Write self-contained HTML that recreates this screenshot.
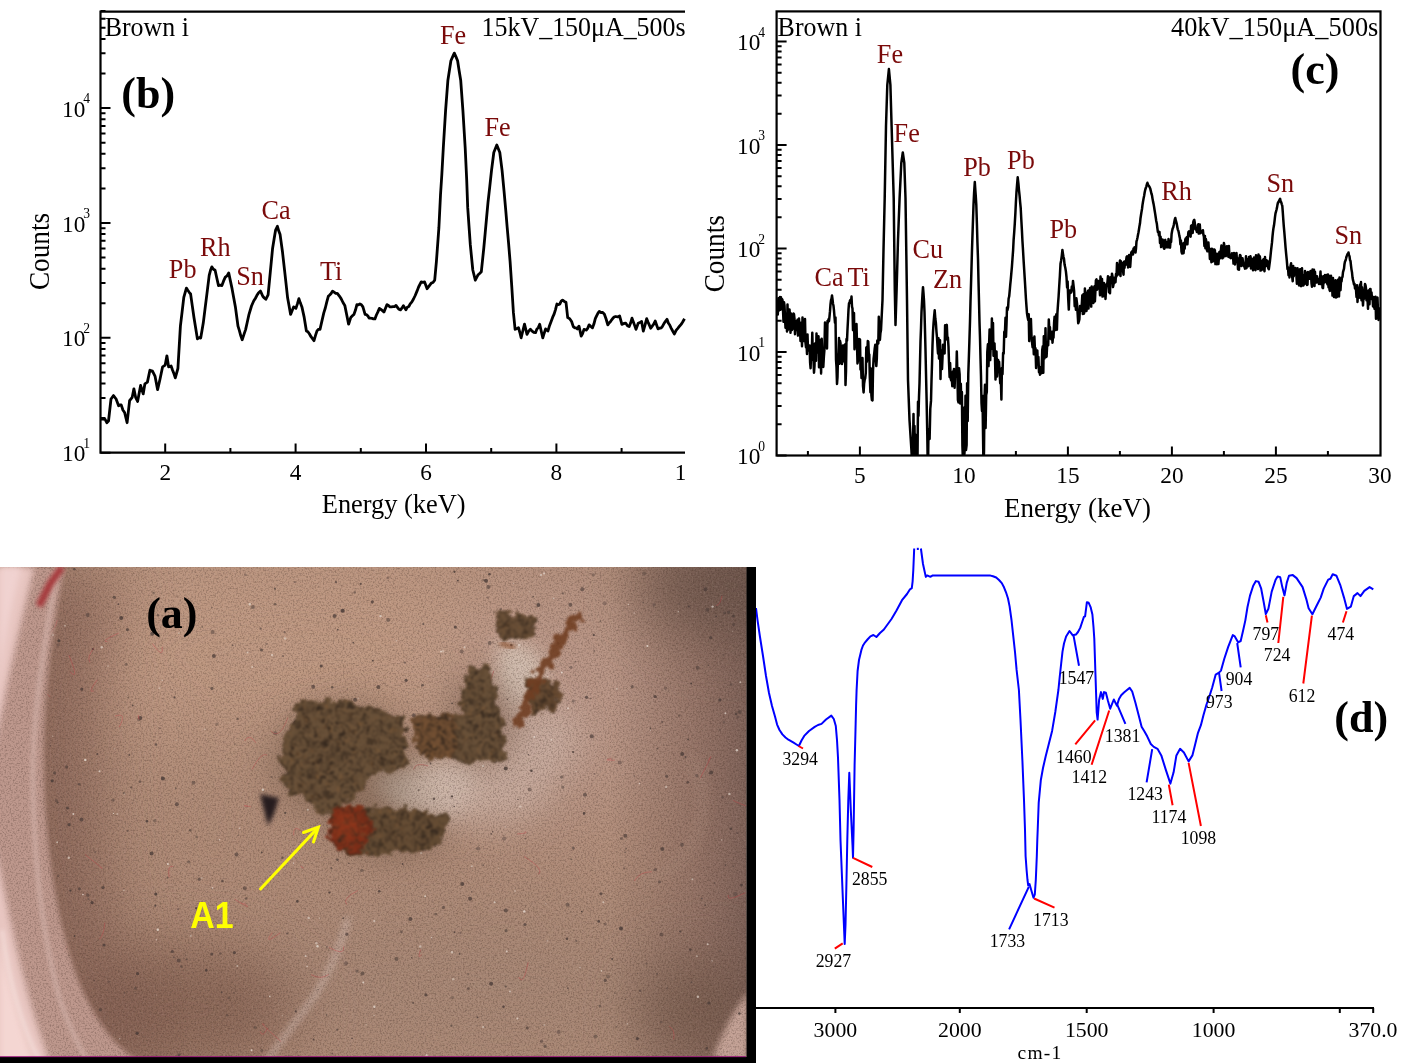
<!DOCTYPE html><html><head><meta charset="utf-8"><title>Figure</title>
<style>html,body{margin:0;padding:0;background:#fff;}body{width:1417px;height:1063px;overflow:hidden;}svg{display:block;}</style>
</head><body>
<svg width="1417" height="1063" viewBox="0 0 1417 1063">
<rect width="1417" height="1063" fill="#fff"/>
<g id="pb">
<polyline points="100.5,419 103,419 105.1,419.3 106.8,422.7 108.5,421 111,399 113.5,395.6 116.1,399 118.6,405.8 119.9,404.9 121.2,404.9 122.9,410 124.6,412.5 127.1,422.7 129.6,400.7 132.2,397.3 133.9,388.8 135.6,397.3 137.6,401.5 139.1,393.5 140.6,385.5 143.2,393.9 144.9,383.8 147.4,382.1 149.9,370.2 152.5,371.1 155,376.1 157.6,389.7 160.1,378.7 162.6,366.8 165.2,365.1 166.9,355.8 168.6,366.8 171.1,366 172.5,370 173.9,373.6 175.3,377.8 177.9,368.5 180.4,326.2 182.1,311.8 183.8,297.4 186.4,288.1 187.8,290.3 189.2,292.3 190.6,294 192.3,305.9 194,317.7 195.7,328.3 197.4,338.9 199.1,337.7 200.7,338 202,330.4 203.3,322.8 205,309.2 206.7,295.7 209.2,275.4 210.5,270.3 211.8,266.9 213.4,269.2 215.1,270.3 216.8,278 218.5,285.6 220.2,285.2 221.9,285.6 223.6,280.9 225.3,277.1 227,275.9 228.7,272.9 230.4,280.9 232.1,288.9 233.8,298.2 235.5,307.6 238,326.2 239.4,330.6 240.8,335.8 242.2,339.7 243.9,334.6 245.6,329.6 247.3,322 249,314.3 251.5,306 253.8,300.8 255.3,298.5 256.8,295.6 258.6,292.7 260.5,291.1 262.8,296.3 264.3,298 265.8,299.3 268.1,294.8 270.3,272.2 272.6,248.2 274.1,239.1 275.6,230.1 277.4,226.3 278.8,231.1 280.1,234.6 282.4,251.2 284.6,270.7 286.1,284.2 287.6,297.8 289.1,306.1 290.6,314.4 292.1,310.7 293.6,306.9 295.9,308.4 297.4,303.9 298.9,298.6 300.4,303.1 301.9,306.9 304.2,317.4 306.4,330.9 307.9,331.7 309.5,334 311,336.7 312.5,338.6 314,340.7 315.5,335.4 317,330.9 318.5,329.3 320,329.4 321.9,321.1 323.8,312.9 325.3,308 326.8,301.8 328.3,296.3 329.7,295 331.1,293.5 332.5,291.1 334.1,292.2 335.7,293.3 337.3,293.3 339.2,295.8 341.1,298.6 343,302.5 344.8,305.4 346.7,314.8 348.6,324.2 350.8,317.4 352.4,315.8 353.9,314.4 355.4,310.3 356.9,304.6 358.4,304.9 359.9,303.9 361.4,304.7 362.9,306.9 365.1,314.4 366.4,314.7 367.8,315.8 369.1,318.1 370.4,318.2 371.9,318.3 373.4,318.9 374.9,318.9 376.4,315 377.9,311.9 379.4,308.4 380.9,309.4 382.4,310.6 383.9,312.1 385.4,308.5 387,304.6 388.5,305.5 390,306.9 391.5,306.9 393,306.7 394.5,306.7 396,305.4 397.5,307.5 399,309.3 400.5,309.9 401.9,308.1 403.4,305.6 405.9,309.8 407.3,307.2 408.8,306.5 410.2,303.9 411.9,301.9 413.5,299 415.2,295.5 416.9,291.4 418.6,287 421.2,281.9 422.9,282.3 424.6,281.9 427.1,288.7 429.6,285.3 431.3,283.1 433,282.5 434.7,280.2 436.4,261.6 438.9,227.7 440.5,195 441.8,175 443.3,148 445.6,110.3 447.9,80.2 449.4,70.5 450.9,60.7 452.6,56.9 454.3,53.1 456,56.9 457.6,60.7 459.1,70.5 460.7,80.2 462.9,110.3 465.2,148 466.7,180 467.7,207.4 469,226.1 470.3,244.7 472.8,270 475.3,280.2 477.9,275.1 479.6,273.5 481.3,271.8 483.8,248 485.2,232.8 486.6,217.5 488,202.3 489.8,186.4 491.5,170.6 493.8,152.5 495.3,148.8 496.8,145 498.3,148.8 499.8,152.5 502.1,170.6 504,190.7 505.8,210.8 507.2,227.7 508.7,244.7 510.1,261.6 511.8,287 513.4,312.4 515.1,329.3 516.8,328.6 518.5,327.6 519.8,332.3 521.1,337.8 522.8,331 524.5,324.2 527,334.4 528.7,331.1 530.4,329.3 532.1,331.1 533.8,332.4 535.5,332.7 536.9,329.1 538.3,327.6 539.7,324.2 541.2,331 542.8,337.9 544.2,333.2 545.6,328.9 547.9,331.1 549.6,325.4 551.3,321 552.7,317.2 554.1,314.2 555.5,309.6 556.9,304 558.3,304.7 559.8,304 561.2,301.2 562.6,300.1 564.3,301.4 566,302.3 567.7,317.6 569.7,318.7 571.6,321.5 573.3,326.6 574.6,327.8 576,327.8 577.3,328.9 579,326.1 581.2,336.2 582.6,333.5 584,329.4 586.3,330 587.7,328.3 589.1,324.9 590.8,326.4 592.5,327.8 593.9,324.1 595.3,318.7 596.6,315.9 598,313.1 599.3,311.4 601,312.5 602.7,312.4 604.4,314.2 606.1,319 607.8,324.9 609.1,323 610.4,321.7 611.7,319.8 613,318.1 614.4,316.8 615.7,316.5 617.7,316.9 619.6,315.9 621.9,324.4 623.8,323.5 625.8,323.2 627.5,325.7 629.2,326.6 630.6,323.1 632,318.2 633.3,321.7 634.7,325.6 636,329.4 638.2,323.2 639.9,322.4 641.6,321.5 643.3,331.1 645,325.2 646.7,318.7 648,322.1 649.4,325.2 650.7,328.3 652.2,326.1 653.7,324.2 655.2,321 656.6,325 658,328.9 659.3,328.2 660.7,328.2 662,327.2 663.7,324.1 665.3,321.6 667,319.3 668.3,323 669.7,325 671,327.8 672.7,331 674.4,334 676.1,330.3 677.8,328.3 679.5,326.2 681.1,324.4 682.8,321.7 684.5,318.7" fill="none" stroke="#000" stroke-width="2.8" stroke-linejoin="round"/>
<path d="M100.5,10.8 V453.5 M99.5,452.6 H685 M99.5,11.6 H685" stroke="#000" stroke-width="2.2" fill="none"/>
<path d="M100.5,452.7 h10 M100.5,418.1 h5 M100.5,397.9 h5 M100.5,383.5 h5 M100.5,372.4 h5 M100.5,363.3 h5 M100.5,355.6 h5 M100.5,349 h5 M100.5,343.1 h5 M100.5,337.8 h10 M100.5,303.3 h5 M100.5,283 h5 M100.5,268.7 h5 M100.5,257.5 h5 M100.5,248.4 h5 M100.5,240.8 h5 M100.5,234.1 h5 M100.5,228.2 h5 M100.5,223 h10 M100.5,188.4 h5 M100.5,168.2 h5 M100.5,153.8 h5 M100.5,142.7 h5 M100.5,133.6 h5 M100.5,125.9 h5 M100.5,119.2 h5 M100.5,113.3 h5 M100.5,108.1 h10 M100.5,73.5 h5 M100.5,53.3 h5 M100.5,38.9 h5 M100.5,27.8 h5 M100.5,18.7 h5 M100.5,11 h5" stroke="#000" stroke-width="2" fill="none"/>
<path d="M165.2,452.6 v-9 M230.4,452.6 v-4.5 M295.6,452.6 v-9 M360.8,452.6 v-4.5 M426,452.6 v-9 M491.2,452.6 v-4.5 M556.4,452.6 v-9 M621.6,452.6 v-4.5" stroke="#000" stroke-width="2" fill="none"/>
<text transform="translate(165.2,480) scale(0.970,1)" font-size="24" fill="#000" text-anchor="middle" font-weight="normal" font-family="'Liberation Serif','Times New Roman',serif" >2</text>
<text transform="translate(295.6,480) scale(0.970,1)" font-size="24" fill="#000" text-anchor="middle" font-weight="normal" font-family="'Liberation Serif','Times New Roman',serif" >4</text>
<text transform="translate(426,480) scale(0.970,1)" font-size="24" fill="#000" text-anchor="middle" font-weight="normal" font-family="'Liberation Serif','Times New Roman',serif" >6</text>
<text transform="translate(556.4,480) scale(0.970,1)" font-size="24" fill="#000" text-anchor="middle" font-weight="normal" font-family="'Liberation Serif','Times New Roman',serif" >8</text>
<clipPath id="cb"><rect x="600" y="440" width="85" height="60"/></clipPath>
<g clip-path="url(#cb)">
<text transform="translate(686.3,480) scale(0.970,1)" font-size="24" fill="#000" text-anchor="middle" font-weight="normal" font-family="'Liberation Serif','Times New Roman',serif" >10</text>
</g>
<text transform="translate(62,461.3) scale(0.970,1)" font-size="24" fill="#000" text-anchor="start" font-weight="normal" font-family="'Liberation Serif','Times New Roman',serif" >10<tspan dx="-2.0" dy="-13.4" font-size="14">1</tspan></text>
<text transform="translate(62,346.4) scale(0.970,1)" font-size="24" fill="#000" text-anchor="start" font-weight="normal" font-family="'Liberation Serif','Times New Roman',serif" >10<tspan dx="-2.0" dy="-13.4" font-size="14">2</tspan></text>
<text transform="translate(62,231.6) scale(0.970,1)" font-size="24" fill="#000" text-anchor="start" font-weight="normal" font-family="'Liberation Serif','Times New Roman',serif" >10<tspan dx="-2.0" dy="-13.4" font-size="14">3</tspan></text>
<text transform="translate(62,116.7) scale(0.970,1)" font-size="24" fill="#000" text-anchor="start" font-weight="normal" font-family="'Liberation Serif','Times New Roman',serif" >10<tspan dx="-2.0" dy="-13.4" font-size="14">4</tspan></text>
<text transform="translate(49.2,251.5) rotate(-90) scale(0.94,1)" font-size="29" text-anchor="middle" font-family="'Liberation Serif','Times New Roman',serif">Counts</text>
<text transform="translate(321.8,513.2) scale(0.956,1)" font-size="27.6" fill="#000" text-anchor="start" font-weight="normal" font-family="'Liberation Serif','Times New Roman',serif" >Energy (keV)</text>
<text transform="translate(104.7,36.3) scale(0.950,1)" font-size="27.3" fill="#000" text-anchor="start" font-weight="normal" font-family="'Liberation Serif','Times New Roman',serif" >Brown i</text>
<text transform="translate(685.6,36) scale(0.940,1)" font-size="27.6" fill="#000" text-anchor="end" font-weight="normal" font-family="'Liberation Serif','Times New Roman',serif" >15kV_150&#956;A_500s</text>
<text x="121.3" y="107.9" font-size="44" fill="#000" text-anchor="start" font-weight="bold" font-family="'Liberation Serif','Times New Roman',serif" >(b)</text>
<text transform="translate(168.8,277.7) scale(0.950,1)" font-size="27.6" fill="#7a0a0a" text-anchor="start" font-weight="normal" font-family="'Liberation Serif','Times New Roman',serif" >Pb</text>
<text transform="translate(200,255.8) scale(0.950,1)" font-size="27.6" fill="#7a0a0a" text-anchor="start" font-weight="normal" font-family="'Liberation Serif','Times New Roman',serif" >Rh</text>
<text transform="translate(236.2,284.7) scale(0.950,1)" font-size="27.6" fill="#7a0a0a" text-anchor="start" font-weight="normal" font-family="'Liberation Serif','Times New Roman',serif" >Sn</text>
<text transform="translate(261.5,219.1) scale(0.950,1)" font-size="27.6" fill="#7a0a0a" text-anchor="start" font-weight="normal" font-family="'Liberation Serif','Times New Roman',serif" >Ca</text>
<text transform="translate(320,280.3) scale(0.950,1)" font-size="27.6" fill="#7a0a0a" text-anchor="start" font-weight="normal" font-family="'Liberation Serif','Times New Roman',serif" >Ti</text>
<text transform="translate(439.9,44.4) scale(0.950,1)" font-size="27.6" fill="#7a0a0a" text-anchor="start" font-weight="normal" font-family="'Liberation Serif','Times New Roman',serif" >Fe</text>
<text transform="translate(484.4,136.2) scale(0.950,1)" font-size="27.6" fill="#7a0a0a" text-anchor="start" font-weight="normal" font-family="'Liberation Serif','Times New Roman',serif" >Fe</text>
</g>
<g id="pc">
<clipPath id="cc"><rect x="777" y="11" width="603" height="444.5"/></clipPath>
<polyline clip-path="url(#cc)" points="776.7,306.1 777.2,301 777.8,314.5 778.4,298.2 778.9,310.7 779.5,305.6 780,296.9 780.5,309.7 781,297.2 781.5,308.7 782,299 782.5,300 783,309.9 783.5,321.8 784,302.3 784.5,305.6 785,317.7 785.5,327.8 786,317.9 786.5,313.4 787,331.4 787.5,304.4 788,329.6 788.5,313.2 789,309.5 789.5,309.4 790,316 790.5,332.8 791,313.6 791.5,327.2 792,330 792.5,322.2 793,328.8 793.5,313.6 794,314.3 794.5,318.8 795,334.2 795.5,325.5 796,321.4 796.5,329.9 797,325.2 797.5,319.8 798,335.6 798.5,333 799,318.6 799.5,330 800,328.8 800.5,341 801,336.7 801.5,322.4 802,346.2 802.5,317.5 803,328.2 803.5,341 804,321.1 804.5,334 805,319 805.5,342.7 806,347.4 806.5,341.6 807,354 807.5,334.4 808,350.4 808.5,348 809.1,348.9 809.6,345.4 810.1,362.4 810.6,368.3 811.2,349.3 811.7,357.5 812.3,332.7 812.9,359.7 813.4,357.8 814,372.7 814.5,365.9 815,343.6 815.5,348.3 816,360.7 816.5,333.5 817,352.6 817.5,340.3 818,338.4 818.5,336.2 819,367.3 819.6,339.8 820.1,345.3 820.6,351.9 821.1,373.4 821.7,338.8 822.2,355.4 822.7,360.2 823.3,366.9 823.9,356.4 824.4,350.2 825,322.5 825.5,327.8 826,326.5 826.5,345.2 827,348.6 827.5,321.1 828,322.6 828.5,319.3 829,321.1 829.5,316.5 830,311.2 830.5,304.1 831,300.1 831.5,298.7 832,295.5 832.5,299.2 833,303.7 833.5,305.8 834,310.7 834.5,316.9 835,322.8 835.5,317.5 836,359.5 836.5,367.1 837,384 837.5,377.2 838,355.6 838.5,353.3 839,337.9 839.5,363.8 840,340.7 840.5,343.2 841,352.3 841.5,352.4 842,363.9 842.5,348.6 843,345.4 843.5,352.4 844,349.3 844.5,361.6 845,344.4 845.5,384.9 846,371.5 846.5,339 847,340.6 847.5,329.2 848,320 848.5,309.7 849,303.3 849.5,303.2 850,300.5 850.5,299.9 851,302.1 851.5,296.6 852,306.6 852.5,308.6 853,330.1 853.5,313.7 854,313 854.5,349.3 855,339 855.5,326.2 856,342.3 856.5,324 857,344.4 857.5,363.4 858,360.4 858.5,355.2 859,339 859.5,344.5 860,339.5 860.5,369.4 861,362.5 861.5,377.9 862,360 862.5,357.9 863,385.9 863.6,392.5 864.1,383.9 864.7,379.7 865.2,378.4 865.8,372.8 866.3,347.6 866.8,361.8 867.3,355.3 867.8,341 868.3,341.7 868.8,354.5 869.3,354.4 869.8,377.1 870.4,392.1 870.9,368.5 871.4,395.3 871.9,400 872.5,400.4 873,370.7 873.6,358.6 874.1,354.6 874.7,348.8 875.3,344.8 875.8,359.1 876.3,366.1 876.8,358.9 877.3,340.6 877.8,342.7 878.3,343.4 878.8,316.7 879.4,334 879.9,339.9 880.4,333.4 881,330 881.5,320 882.5,300 883.5,250 884.7,198 886,126 887.3,85 888.9,69 890.4,85 891.6,126 893.7,198 894.8,290 895.5,325 896.6,290 898,240 899.6,198 901.3,163 902.8,152.4 904.3,163 905.5,198 907,300 908,380 909.5,420 911.8,456 913,444.8 913.5,413.9 914,471.3 914.5,425.9 915,468.1 915.5,487.4 916,434.9 916.5,437.7 917,495.3 917.5,461 918,401.7 918.5,415.6 919,396.6 919.5,383.3 920,362.1 920.5,341.3 921,328.3 921.5,312 922,302.9 922.5,294.1 923,287.2 923.5,293.4 924,300.5 924.5,312 925,330.8 925.5,350.2 926,373.2 926.6,399.3 927.3,434.8 927.9,478 928.5,429.8 929,434.3 929.6,438.9 930.3,408.6 931,400.9 931.5,380.5 932,364.4 932.5,345.3 933,332.1 933.6,322.6 934.1,316.5 934.7,310.3 935.3,318.5 935.9,323 936.5,332.1 937,337.5 937.5,346.2 938,353.5 938.5,338.2 939,358.5 939.5,347.7 940,340.3 940.5,379 941,350.3 941.5,361.3 942,369.1 942.5,358 943,344.7 943.5,349.2 944,347.2 944.6,353.4 945.1,325.3 945.7,339.7 946.3,326.1 946.8,324.8 947.4,339.2 947.9,337.4 948.5,346.7 949,362.3 949.6,377 950.1,363 950.7,378.6 951.2,380.3 951.8,378.7 952.3,386.2 952.9,371.5 953.4,373.7 954,368.9 954.6,387.8 955.1,372.3 955.7,376.5 956.3,375.3 956.8,351.6 957.4,372.6 957.9,399.9 958.5,402.4 959,368.2 959.6,374.1 960.2,403.4 960.8,383.7 961.4,403.7 961.9,392 962.4,445.7 962.9,459.2 963.4,473.1 963.9,407.8 964.4,454.3 965,443.7 965.5,395.7 966,450.1 966.6,445 967.1,383.2 967.7,421 968.3,374 968.9,356.4 969.4,340.9 970,321.5 970.5,301.2 971,284.8 971.5,267.5 972,249.6 972.5,234.4 973,219.7 973.5,205.3 974.1,192.9 974.8,182.1 975.3,189.6 975.8,196.7 976.3,204.8 976.9,223.5 977.4,241.7 978,258.9 978.5,281.5 979,301.1 979.5,322.2 980,337.8 980.5,358.4 981,376.2 981.5,402.8 982,410.8 982.5,395.8 983,432.7 983.5,468.6 984,451.2 984.5,398.9 985,384.7 985.6,428.1 986.2,394.9 986.8,392.1 987.3,352.1 987.9,344.3 988.5,366.1 989,346.9 989.6,329.6 990.2,360.1 990.7,344.8 991.3,347.3 991.9,318.5 992.4,348.8 993,323 993.5,355.8 994,343.2 994.5,343.4 995,357.3 995.5,379.4 996,353.9 996.5,351.5 997,376.4 997.5,364.2 998.1,359.9 998.6,365.5 999.1,361.7 999.7,373.4 1000.2,383.2 1000.8,378.1 1001.4,399.5 1001.9,367.9 1002.5,374.2 1003.1,353.1 1003.7,353.5 1004.3,331.8 1004.9,333.9 1005.5,317.8 1006,336.7 1006.5,324.4 1007,307.5 1007.5,309.9 1008.1,307.2 1008.6,298.8 1009.2,296.3 1009.8,289.8 1010.3,284.2 1010.8,279.4 1011.4,272.3 1011.9,266.8 1012.5,258.5 1013.1,250.3 1013.6,240.2 1014.2,232.4 1014.8,223.3 1015.4,212.9 1015.9,202.2 1016.5,191.8 1017.1,184.4 1017.7,177.3 1018.4,183.4 1019,190.3 1019.6,195.8 1020.1,201.8 1020.7,207.8 1021.3,219.5 1021.9,230.1 1022.4,240.3 1023,250 1023.6,260.4 1024.2,269.8 1024.8,279.6 1025.3,287.9 1025.9,298.2 1026.5,306.7 1027,313.3 1027.6,317.1 1028.2,320.1 1028.7,314.3 1029.2,341.1 1029.8,323.3 1030.4,328.3 1030.9,318.9 1031.5,336 1032.1,342.8 1032.6,347.3 1033.2,338.2 1033.8,354.2 1034.4,336.6 1035,352.5 1035.5,348.2 1036.1,368 1036.7,353.3 1037.3,350.4 1037.8,362.9 1038.4,357.1 1039,372.2 1039.5,366.9 1040,374.7 1040.6,367.7 1041.1,367.6 1041.6,373.2 1042.2,350.3 1042.8,346.3 1043.3,372.7 1043.8,336.3 1044.4,358.6 1045,353.7 1045.5,328.3 1046,357.1 1046.6,356.5 1047.2,343.9 1047.7,345.2 1048.2,345.3 1048.8,319.5 1049.4,330.2 1049.9,327.1 1050.4,338.5 1050.9,338.1 1051.5,339.4 1052,331.8 1052.5,342.7 1053,336.2 1053.5,337.6 1054.1,322.7 1054.6,316.7 1055.2,321.1 1055.7,330.1 1056.3,314.2 1056.9,329.6 1057.4,313.2 1058,304.3 1058.6,296.5 1059.2,286.2 1059.9,275.3 1060.5,263.7 1061.1,260.7 1061.8,255.6 1062.4,250 1062.9,253.4 1063.5,257 1064,258.9 1064.6,264.8 1065.3,267.7 1065.9,271.4 1066.5,277 1067.1,287.5 1067.6,281.4 1068.2,298.5 1068.8,309.6 1069.3,295.5 1069.8,290.6 1070.3,290.5 1070.8,292.7 1071.3,292.1 1071.8,286.5 1072.4,290.3 1073,280.9 1073.5,285.4 1074.1,290.9 1074.7,306.1 1075.3,298.9 1075.9,309.8 1076.4,298.3 1077,303.1 1077.6,312.9 1078.2,323.2 1078.8,321.6 1079.4,319.1 1080,306.1 1080.6,310.8 1081.1,307.7 1081.7,306.1 1082.3,295.3 1082.8,313.9 1083.4,294.3 1083.9,313.7 1084.4,312.1 1084.9,288.5 1085.4,299.2 1086,307.7 1086.5,310.9 1087,297.6 1087.5,292.8 1088,290.9 1088.5,308.5 1089,290.2 1089.6,298.8 1090.1,287.9 1090.6,296.7 1091.2,306.6 1091.7,286.6 1092.2,302.6 1092.7,294.7 1093.3,303 1093.8,298.1 1094.3,286.6 1094.9,301.4 1095.4,291.3 1095.9,280.3 1096.5,279.3 1097,289.8 1097.5,288.5 1098,284.8 1098.5,280.9 1099,285 1099.5,284.1 1100,295.2 1100.5,276.5 1101,292.5 1101.5,294.5 1102,278.9 1102.5,296.6 1103,292.1 1103.5,296.3 1104,283 1104.5,284.9 1105,285.4 1105.5,298.9 1106,290 1106.5,284.4 1107,285.4 1107.5,281.6 1108,276.2 1108.5,276.9 1109,292.2 1109.5,279.9 1110,293.2 1110.5,277.8 1111,277.1 1111.5,281.2 1112,273.7 1112.5,276.5 1113,287.1 1113.5,284.6 1114,282.1 1114.5,277.8 1115,282.4 1115.5,282.1 1116,273.9 1116.5,276.4 1117,263.1 1117.5,275 1118,269.1 1118.5,274.3 1119,272 1119.5,265.1 1120,260.5 1120.5,276 1121,261.3 1121.5,267.2 1122,264.6 1122.5,263.4 1123,270.9 1123.5,274.7 1124,261.8 1124.5,268 1125,261.2 1125.5,265 1126,261.5 1126.6,257 1127.1,256.3 1127.6,256.5 1128.1,267.4 1128.6,260 1129.1,255 1129.7,265.9 1130.2,266.9 1130.8,257.7 1131.3,252.3 1131.9,252.8 1132.5,250.8 1133,254.5 1133.5,248.6 1134,249 1134.5,247.4 1135,250 1135.5,252.6 1136,248.5 1136.5,241.3 1137,239.8 1137.5,237.5 1138,234.8 1138.5,232.2 1139,229.2 1139.5,225.9 1140,223.3 1140.5,218.2 1141,215 1141.5,211.9 1142,209 1142.5,204.9 1143,201.7 1143.6,198.4 1144.2,195.4 1144.7,192.2 1145.3,189.5 1145.8,188 1146.3,186.6 1146.9,184.2 1147.4,182.8 1148,184.5 1148.5,185.6 1149,186 1149.6,187.1 1150.2,188.4 1150.8,190.9 1151.4,193.5 1152,195.4 1152.5,198.6 1153.1,201.9 1153.6,204.1 1154.1,207 1154.6,210.2 1155.2,213.9 1155.7,217.3 1156.2,220.7 1156.8,223.4 1157.3,227.7 1157.9,232.1 1158.4,231.5 1159,235.6 1159.5,232 1160,242.9 1160.6,236.7 1161.1,247.1 1161.6,244.6 1162.1,241 1162.7,239.6 1163.2,242.5 1163.7,247.9 1164.3,248.8 1164.8,240.5 1165.3,239.9 1165.8,246.3 1166.4,247.2 1166.9,244.4 1167.4,242.1 1168,247.4 1168.5,239.1 1169,241.7 1169.5,242.5 1170,247.7 1170.5,241.9 1171.1,241.9 1171.6,234 1172.2,230.5 1172.7,228.4 1173.2,227.5 1173.8,224.8 1174.3,222 1174.8,219.4 1175.3,218 1175.8,220.4 1176.3,222.2 1176.8,224.1 1177.3,227 1177.8,229.6 1178.3,230.5 1178.8,232.8 1179.4,236.1 1179.9,238.1 1180.4,244.3 1180.9,240.4 1181.5,251.6 1182,253.5 1182.5,248.9 1183.1,243.5 1183.6,253.3 1184.2,242.8 1184.7,248.7 1185.3,239.4 1185.8,238.2 1186.3,244.3 1186.9,236.9 1187.4,244.3 1187.9,237.1 1188.4,232 1189,231.3 1189.5,232.6 1190,234.4 1190.6,236.6 1191.1,225.8 1191.6,227.9 1192.2,224.9 1192.7,232.9 1193.2,222.4 1193.7,220.6 1194.3,219.9 1194.8,222.8 1195.3,229 1195.8,229.5 1196.3,228.3 1196.8,231.9 1197.3,231.8 1197.8,225.3 1198.3,224.2 1198.8,233.6 1199.3,231.9 1199.8,224.5 1200.3,233.2 1200.8,230.8 1201.3,231.8 1201.8,232.3 1202.3,231.3 1202.9,230.2 1203.4,234.8 1203.9,236.8 1204.4,245.9 1204.9,235.9 1205.4,248.3 1205.9,239.1 1206.4,242.3 1206.9,250 1207.4,251.3 1207.9,246.9 1208.4,242.4 1208.9,249.8 1209.4,249.4 1209.9,258.9 1210.4,248.9 1210.9,252.7 1211.4,262.3 1211.9,248.7 1212.4,254.9 1212.9,261.4 1213.4,260.9 1213.9,249.5 1214.4,249.6 1214.9,250.2 1215.4,264.1 1215.9,253.6 1216.4,261.6 1216.9,264.2 1217.4,255.4 1217.9,253.8 1218.4,264.1 1218.9,258 1219.4,251.9 1219.9,258.4 1220.4,251.6 1220.9,250.3 1221.4,245.6 1221.9,256.5 1222.4,258.3 1222.9,253.4 1223.4,257.4 1223.9,243.1 1224.4,245.7 1224.9,248.6 1225.4,255.9 1225.9,256.1 1226.4,248 1226.9,246.2 1227.4,249.1 1227.9,250.2 1228.4,256.9 1228.9,246 1229.4,255.5 1229.9,255.6 1230.4,257.9 1230.9,258.2 1231.4,256.7 1232,253.3 1232.5,254.1 1233,255.8 1233.5,263.6 1234,253.1 1234.5,255.2 1235,264.5 1235.5,256.3 1236,253.5 1236.5,253.1 1237,261.9 1237.5,258.3 1238,269.3 1238.5,267.9 1239,269.8 1239.5,257.9 1240,255 1240.5,255.4 1241,262.3 1241.5,266 1242,261.8 1242.5,258.3 1243,261.6 1243.5,265 1244,265.8 1244.5,267 1245,268.6 1245.5,265.4 1246,256.2 1246.5,268.3 1247,259 1247.5,263.5 1248,260.2 1248.5,266.3 1249,257.1 1249.5,257.9 1250,257.8 1250.5,256.2 1251,268.5 1251.5,263.3 1252,259.1 1252.5,260.3 1253,270.3 1253.5,262.1 1254,257.5 1254.5,267.2 1255,264.6 1255.5,270.2 1256,255.3 1256.5,261.6 1257,267.4 1257.5,267.7 1258,269 1258.5,254.4 1259,258.8 1259.5,256 1260,257.3 1260.5,270.6 1261,264.2 1261.5,270.2 1262,260.8 1262.5,269.3 1263,262.4 1263.5,259.3 1264,268.2 1264.5,271.2 1265,257 1265.5,265.5 1266,266.1 1266.6,260.3 1267.1,264.1 1267.7,261.2 1268.2,268 1268.8,269.3 1269.3,265.8 1269.9,261.4 1270.5,255.8 1271,250.9 1271.5,246.6 1272,242.4 1272.5,236.4 1273,231.7 1273.5,227.9 1274,225.3 1274.5,221.3 1275,216.9 1275.5,213.4 1276,211.6 1276.5,209.7 1277,207.6 1277.5,204.6 1278,202.5 1278.5,202.3 1279,200.9 1279.6,199.7 1280.1,198.8 1280.6,201.3 1281.2,202.2 1281.8,204.3 1282.3,205.8 1282.8,212.4 1283.3,219.6 1283.8,226.3 1284.3,231.8 1284.9,239.1 1285.6,247.8 1286.2,254.3 1286.8,260.3 1287.5,269.1 1288,267.3 1288.5,275.1 1289,268.2 1289.5,277.5 1290.1,270.4 1290.6,265.5 1291.1,263.3 1291.6,274 1292.1,275.9 1292.7,281.3 1293.2,265.9 1293.7,276.3 1294.3,271.8 1294.8,274.6 1295.3,267.9 1295.9,270.8 1296.4,275.7 1296.9,283.7 1297.5,268.2 1298,275.8 1298.5,282.1 1299,285.4 1299.5,270.5 1300,269.2 1300.5,285.3 1301,286.1 1301.5,276.5 1302,268.2 1302.5,285.5 1303,275 1303.5,285.4 1304,279.9 1304.5,284 1305,271 1305.5,283.5 1306,272.5 1306.5,276.2 1307,285 1307.5,284.7 1308,271.9 1308.5,272.7 1309,276.4 1309.5,278.8 1310,276.2 1310.5,271 1311,273.6 1311.5,283.2 1312,286.7 1312.5,269.6 1313,280.1 1313.5,284.1 1314,269.7 1314.5,286 1315,271.7 1315.5,281.6 1316,280.8 1316.5,282.5 1317,276.2 1317.5,278.7 1318,282.2 1318.5,279.2 1319,284.1 1319.5,280 1320,280 1320.5,271.6 1321,284.1 1321.5,281.6 1322,276.5 1322.5,287.7 1323,288.2 1323.5,281.7 1324,276.1 1324.5,282.4 1325,274.9 1325.5,275.5 1326,282 1326.5,275.1 1327,282.6 1327.5,284.3 1328,274.5 1328.5,287.3 1329,275.7 1329.5,289.8 1330,290.9 1330.5,285.4 1331,275.8 1331.5,285.6 1332,283 1332.5,295.6 1333,278.1 1333.5,293.9 1334,297.1 1334.5,291.5 1335,293.5 1335.5,280.2 1336,297.5 1336.5,286.8 1337,297 1337.5,296.1 1338,279.7 1338.5,293.3 1339,296.4 1339.5,277.5 1340,283.7 1340.5,290.3 1341,281.5 1341.5,281.6 1342,277.5 1342.5,276.9 1343,272.2 1343.5,270.4 1344,268.7 1344.5,264 1345,261.4 1345.5,260.6 1346,258.7 1346.5,256.6 1347,255.5 1347.5,254.1 1348,254.4 1348.5,252.4 1349,255.4 1349.5,256.2 1350,260.2 1350.5,261 1351,265.7 1351.5,269.6 1352,272.4 1352.5,277.5 1353,280.2 1353.5,281.9 1354,284.5 1354.5,283.7 1355,288.3 1355.5,288.8 1356,289.6 1356.5,297 1357,285.2 1357.5,301.9 1358,292.8 1358.5,288.1 1359,297.5 1359.5,290.4 1360,284.6 1360.5,297.9 1361,282.1 1361.5,300.2 1362,287.3 1362.5,296.7 1363,305.4 1363.5,296.5 1364,298.9 1364.5,291 1365,284.1 1365.5,285.3 1366,288.5 1366.5,300.3 1367,296.3 1367.5,298.8 1368,308.8 1368.5,290.4 1369,293.2 1369.5,304.3 1370,289 1370.5,288.9 1371,298.3 1371.5,292.4 1372,299.3 1372.5,296.4 1373,306.2 1373.5,306.8 1374,297.2 1374.5,308.8 1375,305.3 1375.5,296.8 1376,318.7 1376.5,300.6 1377,298.5 1377.5,297.5 1378,312.8 1378.5,320 1379,318.3 1379.5,308.5 1380,312" fill="none" stroke="#000" stroke-width="2.5" stroke-linejoin="round"/>
<rect x="776.6" y="11.4" width="603.9" height="444.1" fill="none" stroke="#000" stroke-width="2.2"/>
<path d="M776.6,455.5 h10 M776.6,424.3 h5 M776.6,406.1 h5 M776.6,393.2 h5 M776.6,383.2 h5 M776.6,375 h5 M776.6,368 h5 M776.6,362 h5 M776.6,356.7 h5 M776.6,352 h10 M776.6,320.8 h5 M776.6,302.6 h5 M776.6,289.7 h5 M776.6,279.7 h5 M776.6,271.5 h5 M776.6,264.5 h5 M776.6,258.5 h5 M776.6,253.2 h5 M776.6,248.5 h10 M776.6,217.3 h5 M776.6,199.1 h5 M776.6,186.2 h5 M776.6,176.2 h5 M776.6,168 h5 M776.6,161 h5 M776.6,155 h5 M776.6,149.7 h5 M776.6,145 h10 M776.6,113.8 h5 M776.6,95.6 h5 M776.6,82.7 h5 M776.6,72.7 h5 M776.6,64.5 h5 M776.6,57.5 h5 M776.6,51.5 h5 M776.6,46.2 h5 M776.6,41.5 h10 M807.9,455.5 v-4.5 M859.9,455.5 v-9 M911.9,455.5 v-4.5 M963.9,455.5 v-9 M1015.9,455.5 v-4.5 M1067.9,455.5 v-9 M1119.9,455.5 v-4.5 M1171.9,455.5 v-9 M1223.9,455.5 v-4.5 M1275.9,455.5 v-9 M1327.9,455.5 v-4.5" stroke="#000" stroke-width="2" fill="none"/>
<text transform="translate(859.9,482.8) scale(0.970,1)" font-size="24" fill="#000" text-anchor="middle" font-weight="normal" font-family="'Liberation Serif','Times New Roman',serif" >5</text>
<text transform="translate(963.9,482.8) scale(0.970,1)" font-size="24" fill="#000" text-anchor="middle" font-weight="normal" font-family="'Liberation Serif','Times New Roman',serif" >10</text>
<text transform="translate(1067.9,482.8) scale(0.970,1)" font-size="24" fill="#000" text-anchor="middle" font-weight="normal" font-family="'Liberation Serif','Times New Roman',serif" >15</text>
<text transform="translate(1171.9,482.8) scale(0.970,1)" font-size="24" fill="#000" text-anchor="middle" font-weight="normal" font-family="'Liberation Serif','Times New Roman',serif" >20</text>
<text transform="translate(1275.9,482.8) scale(0.970,1)" font-size="24" fill="#000" text-anchor="middle" font-weight="normal" font-family="'Liberation Serif','Times New Roman',serif" >25</text>
<text transform="translate(1379.9,482.8) scale(0.970,1)" font-size="24" fill="#000" text-anchor="middle" font-weight="normal" font-family="'Liberation Serif','Times New Roman',serif" >30</text>
<text transform="translate(737,464.1) scale(0.970,1)" font-size="24" fill="#000" text-anchor="start" font-weight="normal" font-family="'Liberation Serif','Times New Roman',serif" >10<tspan dx="-2.0" dy="-13.4" font-size="14">0</tspan></text>
<text transform="translate(737,360.6) scale(0.970,1)" font-size="24" fill="#000" text-anchor="start" font-weight="normal" font-family="'Liberation Serif','Times New Roman',serif" >10<tspan dx="-2.0" dy="-13.4" font-size="14">1</tspan></text>
<text transform="translate(737,257.1) scale(0.970,1)" font-size="24" fill="#000" text-anchor="start" font-weight="normal" font-family="'Liberation Serif','Times New Roman',serif" >10<tspan dx="-2.0" dy="-13.4" font-size="14">2</tspan></text>
<text transform="translate(737,153.6) scale(0.970,1)" font-size="24" fill="#000" text-anchor="start" font-weight="normal" font-family="'Liberation Serif','Times New Roman',serif" >10<tspan dx="-2.0" dy="-13.4" font-size="14">3</tspan></text>
<text transform="translate(737,50.1) scale(0.970,1)" font-size="24" fill="#000" text-anchor="start" font-weight="normal" font-family="'Liberation Serif','Times New Roman',serif" >10<tspan dx="-2.0" dy="-13.4" font-size="14">4</tspan></text>
<text transform="translate(724.0,253.7) rotate(-90) scale(0.94,1)" font-size="29" text-anchor="middle" font-family="'Liberation Serif','Times New Roman',serif">Counts</text>
<text transform="translate(1004,516.8) scale(0.977,1)" font-size="27.6" fill="#000" text-anchor="start" font-weight="normal" font-family="'Liberation Serif','Times New Roman',serif" >Energy (keV)</text>
<text transform="translate(777.6,36.2) scale(0.950,1)" font-size="27.3" fill="#000" text-anchor="start" font-weight="normal" font-family="'Liberation Serif','Times New Roman',serif" >Brown i</text>
<text transform="translate(1378.3,36.2) scale(0.955,1)" font-size="27.6" fill="#000" text-anchor="end" font-weight="normal" font-family="'Liberation Serif','Times New Roman',serif" >40kV_150&#956;A_500s</text>
<text x="1290.5" y="83.5" font-size="44" fill="#000" text-anchor="start" font-weight="bold" font-family="'Liberation Serif','Times New Roman',serif" >(c)</text>
<text transform="translate(814.6,285.9) scale(0.950,1)" font-size="27.6" fill="#7a0a0a" text-anchor="start" font-weight="normal" font-family="'Liberation Serif','Times New Roman',serif" >Ca</text>
<text transform="translate(847.5,285.9) scale(0.950,1)" font-size="27.6" fill="#7a0a0a" text-anchor="start" font-weight="normal" font-family="'Liberation Serif','Times New Roman',serif" >Ti</text>
<text transform="translate(876.8,63.1) scale(0.950,1)" font-size="27.6" fill="#7a0a0a" text-anchor="start" font-weight="normal" font-family="'Liberation Serif','Times New Roman',serif" >Fe</text>
<text transform="translate(893.6,141.5) scale(0.950,1)" font-size="27.6" fill="#7a0a0a" text-anchor="start" font-weight="normal" font-family="'Liberation Serif','Times New Roman',serif" >Fe</text>
<text transform="translate(912.6,257.7) scale(0.950,1)" font-size="27.6" fill="#7a0a0a" text-anchor="start" font-weight="normal" font-family="'Liberation Serif','Times New Roman',serif" >Cu</text>
<text transform="translate(933,288.2) scale(0.950,1)" font-size="27.6" fill="#7a0a0a" text-anchor="start" font-weight="normal" font-family="'Liberation Serif','Times New Roman',serif" >Zn</text>
<text transform="translate(963.2,175.9) scale(0.950,1)" font-size="27.6" fill="#7a0a0a" text-anchor="start" font-weight="normal" font-family="'Liberation Serif','Times New Roman',serif" >Pb</text>
<text transform="translate(1007.1,169.3) scale(0.950,1)" font-size="27.6" fill="#7a0a0a" text-anchor="start" font-weight="normal" font-family="'Liberation Serif','Times New Roman',serif" >Pb</text>
<text transform="translate(1049.5,237.9) scale(0.950,1)" font-size="27.6" fill="#7a0a0a" text-anchor="start" font-weight="normal" font-family="'Liberation Serif','Times New Roman',serif" >Pb</text>
<text transform="translate(1161.3,200.2) scale(0.950,1)" font-size="27.6" fill="#7a0a0a" text-anchor="start" font-weight="normal" font-family="'Liberation Serif','Times New Roman',serif" >Rh</text>
<text transform="translate(1266.4,191.5) scale(0.950,1)" font-size="27.6" fill="#7a0a0a" text-anchor="start" font-weight="normal" font-family="'Liberation Serif','Times New Roman',serif" >Sn</text>
<text transform="translate(1334.4,243.5) scale(0.950,1)" font-size="27.6" fill="#7a0a0a" text-anchor="start" font-weight="normal" font-family="'Liberation Serif','Times New Roman',serif" >Sn</text>
</g>
<g id="pd">
<polyline points="756,608 757.5,620 760,637 763,656 766,676 769,693 772,706 775,716.5 777.1,724.6 779.5,730 782.4,734.4 785.5,737.5 788.4,739.7 791,741.2 793.6,742.7 796.5,744.5 798.9,746 801.5,740.5 804.2,735.9 809,731 814.7,726.9 818,725 821.5,723.9 826,719.5 831.3,715.6 833.8,719 835.8,726.1 837,740 838,757.7 839.5,800 840.5,840 842.5,890 844.7,944 845.5,925 846.5,880 847.3,840 848.3,800 849.3,772.8 850.8,810 852.5,845 853,857.8 853.6,830 854.6,765.2 855.5,730 856.1,705 856.6,690 857.6,671 859,660 861.4,649.9 863,645.5 865.1,642.3 867.5,639.5 870.4,636.3 873.4,635 876.4,637 880,633 883.9,629.5 887.5,624.5 891.5,619 896.5,610.5 902,600.2 907,594 910,589.3 911.8,588.2 912.6,581.6 913.3,570 914.2,548.5" fill="none" stroke="#0000ff" stroke-width="2" stroke-linejoin="round"/>
<polyline points="920.9,548.5 923,564 925.8,576.9 927.1,575.4 929,576.2 930.7,576.7 932.8,575.4 945,575.4 990.5,575.6 993,576.3 996.2,577.5 999,580 1001.8,583.1 1004,587.3 1006,592.3 1008,598.5 1009.6,606.4 1011.5,620 1013.1,634.6 1015,652 1016.6,669.9 1018.9,690 1020.5,720 1022.4,760.5 1024,800 1025,830 1025.6,856.3 1026.6,870 1027.5,880 1028.2,885.3 1029.5,884 1031.5,891 1033.5,897.8 1034.8,894.5 1035.8,880 1036.8,856.3 1037.3,840 1037.7,830 1038.7,802.9 1040.8,780.3 1043,768 1045.7,756.3 1048.8,744 1052.1,730.9 1055.3,712 1058.4,690 1059.7,677 1061.2,663.4 1062.5,651.6 1064,643.5 1066.1,636.5 1069.5,631 1072.8,635.3 1075.9,634.6 1078,632 1080.2,627.9 1082,622.5 1083.9,616.9 1085.1,616.3 1086.9,602.2 1088.7,602.8 1090.6,607.1 1092.4,614.5 1093.5,627 1094.3,638.9 1095.5,675.6 1096.7,712.3 1097.6,719.6 1099.1,700.1 1101,692.1 1102.8,698.9 1104,692.1 1105.9,692.8 1108,701 1110.2,708.7 1113.8,699.5 1116.9,705.6 1119,699 1121.2,695.2 1124,692.5 1126.7,690.3 1129.7,687.9 1132.2,691.5 1135.5,703 1139.5,718.4 1141.6,726.7 1144.5,731.5 1147.3,736.6 1150.8,744 1153.8,746.9 1157.5,748.8 1161.3,755.4 1166,770.4 1170.4,783.6 1173.6,772.3 1176.4,755.4 1180.1,748.8 1183.9,752.5 1188.6,761.4 1192.4,755.4 1195,745 1198,732.8 1200.9,725.2 1203.5,715 1206.5,704.5 1209.5,696 1212.2,687.5 1215.7,674.6 1219,672.6 1221,670.6 1224.3,658.8 1228.2,646.9 1232.8,635.1 1234.8,636.4 1238.1,642.3 1240.7,641 1243,631 1245.3,620.6 1247.5,607 1250,595.6 1253.2,585.7 1255.9,581.1 1258.5,581.7 1261.1,588.3 1263.5,601 1265.8,614 1268.4,608.7 1271.7,591.6 1275.6,579.8 1277.6,576.5 1280.2,577.1 1282.3,587.1 1284.5,595.4 1286.8,582.6 1289,575.8 1292.8,575.1 1296.6,578.1 1302.6,587.1 1306.3,599.1 1308.6,608.2 1312.4,614.2 1316.1,606.7 1320.7,597.6 1323.7,588.6 1328.2,579.6 1330.4,578.8 1332.7,574.3 1336.5,575.8 1340.2,584.8 1344,597.6 1347,608.9 1350.8,606.7 1353.8,596.1 1357.5,593.1 1360.5,596.1 1364.3,590.9 1369.6,587.1 1373.3,589.4" fill="none" stroke="#0000ff" stroke-width="2" stroke-linejoin="round"/>
<rect x="916.8" y="547.8" width="2" height="2.2" fill="#0000ff"/>
<path d="M1073.6,635.9 L1079,665.8 M1117,704.1 L1125.4,723.9 M1152.2,749.2 L1146.6,782.4 M1028.9,886.6 L1009.1,929.4 M1219,672.6 L1221.6,691 M1237.2,643 L1240.7,667.3" stroke="#0000ff" stroke-width="2" fill="none"/>
<path d="M798.5,746 L803,748.5 M853,857.8 L872.3,867 M842.7,943.4 L834.8,948.7 M1034.1,898.5 L1054.5,907.7 M1095.1,720.3 L1075.3,744.3 M1109.2,710.5 L1091.6,764.8 M1168.8,784.6 L1172.6,805.3 M1188.6,762.9 L1200.9,826 M1265.8,615.3 L1267.5,622.5 M1283.3,596.9 L1278.3,643 M1311.9,615.7 L1303.3,683.5 M1346.5,611.2 L1342.9,622.5" stroke="#ff0000" stroke-width="2" fill="none"/>
<text transform="translate(782.5,765.3) scale(0.955,1)" font-size="18.6" fill="#000" text-anchor="start" font-weight="normal" font-family="'Liberation Serif','Times New Roman',serif" >3294</text>
<text transform="translate(852,884.9) scale(0.955,1)" font-size="18.6" fill="#000" text-anchor="start" font-weight="normal" font-family="'Liberation Serif','Times New Roman',serif" >2855</text>
<text transform="translate(815.7,966.8) scale(0.955,1)" font-size="18.6" fill="#000" text-anchor="start" font-weight="normal" font-family="'Liberation Serif','Times New Roman',serif" >2927</text>
<text transform="translate(989.7,947.3) scale(0.955,1)" font-size="18.6" fill="#000" text-anchor="start" font-weight="normal" font-family="'Liberation Serif','Times New Roman',serif" >1733</text>
<text transform="translate(1033.1,925.6) scale(0.955,1)" font-size="18.6" fill="#000" text-anchor="start" font-weight="normal" font-family="'Liberation Serif','Times New Roman',serif" >1713</text>
<text transform="translate(1058.7,684.1) scale(0.955,1)" font-size="18.6" fill="#000" text-anchor="start" font-weight="normal" font-family="'Liberation Serif','Times New Roman',serif" >1547</text>
<text transform="translate(1056.1,762.7) scale(0.955,1)" font-size="18.6" fill="#000" text-anchor="start" font-weight="normal" font-family="'Liberation Serif','Times New Roman',serif" >1460</text>
<text transform="translate(1071.6,782.9) scale(0.955,1)" font-size="18.6" fill="#000" text-anchor="start" font-weight="normal" font-family="'Liberation Serif','Times New Roman',serif" >1412</text>
<text transform="translate(1104.8,742.3) scale(0.955,1)" font-size="18.6" fill="#000" text-anchor="start" font-weight="normal" font-family="'Liberation Serif','Times New Roman',serif" >1381</text>
<text transform="translate(1127.4,800.1) scale(0.955,1)" font-size="18.6" fill="#000" text-anchor="start" font-weight="normal" font-family="'Liberation Serif','Times New Roman',serif" >1243</text>
<text transform="translate(1151.5,823.3) scale(0.955,1)" font-size="18.6" fill="#000" text-anchor="start" font-weight="normal" font-family="'Liberation Serif','Times New Roman',serif" >1174</text>
<text transform="translate(1180.7,844) scale(0.955,1)" font-size="18.6" fill="#000" text-anchor="start" font-weight="normal" font-family="'Liberation Serif','Times New Roman',serif" >1098</text>
<text transform="translate(1205.9,708.4) scale(0.955,1)" font-size="18.6" fill="#000" text-anchor="start" font-weight="normal" font-family="'Liberation Serif','Times New Roman',serif" >973</text>
<text transform="translate(1225.7,685.2) scale(0.955,1)" font-size="18.6" fill="#000" text-anchor="start" font-weight="normal" font-family="'Liberation Serif','Times New Roman',serif" >904</text>
<text transform="translate(1252.6,640.2) scale(0.955,1)" font-size="18.6" fill="#000" text-anchor="start" font-weight="normal" font-family="'Liberation Serif','Times New Roman',serif" >797</text>
<text transform="translate(1263.8,660.8) scale(0.955,1)" font-size="18.6" fill="#000" text-anchor="start" font-weight="normal" font-family="'Liberation Serif','Times New Roman',serif" >724</text>
<text transform="translate(1288.7,701.6) scale(0.955,1)" font-size="18.6" fill="#000" text-anchor="start" font-weight="normal" font-family="'Liberation Serif','Times New Roman',serif" >612</text>
<text transform="translate(1327.6,639.9) scale(0.955,1)" font-size="18.6" fill="#000" text-anchor="start" font-weight="normal" font-family="'Liberation Serif','Times New Roman',serif" >474</text>
<path d="M756,1008 H1374" stroke="#000" stroke-width="2.2" fill="none"/>
<path d="M835.4,1008 v5 M959.8,1008 v5 M1086.7,1008 v5 M1213.6,1008 v5 M1339.8,1008 v5 M1373.2,1008 v5" stroke="#000" stroke-width="2" fill="none"/>
<text transform="translate(835.4,1036.6) scale(1.09,1)" font-size="20" text-anchor="middle" font-family="'Liberation Serif','Times New Roman',serif">3000</text>
<text transform="translate(959.8,1036.6) scale(1.09,1)" font-size="20" text-anchor="middle" font-family="'Liberation Serif','Times New Roman',serif">2000</text>
<text transform="translate(1086.7,1036.6) scale(1.09,1)" font-size="20" text-anchor="middle" font-family="'Liberation Serif','Times New Roman',serif">1500</text>
<text transform="translate(1213.6,1036.6) scale(1.09,1)" font-size="20" text-anchor="middle" font-family="'Liberation Serif','Times New Roman',serif">1000</text>
<text transform="translate(1373,1036.6) scale(1.09,1)" font-size="20" text-anchor="middle" font-family="'Liberation Serif','Times New Roman',serif">370.0</text>
<text x="1040" y="1058.6" font-size="19.5" fill="#000" text-anchor="middle" font-weight="normal" font-family="'Liberation Serif','Times New Roman',serif" letter-spacing="1.2">cm-1</text>
<text x="1334.3" y="731.7" font-size="44" fill="#000" text-anchor="start" font-weight="bold" font-family="'Liberation Serif','Times New Roman',serif" >(d)</text>
</g>
<g id="pa">
<clipPath id="cphoto"><rect x="0" y="567" width="746.5" height="490"/></clipPath>
<defs><filter id="b2" color-interpolation-filters="sRGB" x="-20%" y="-20%" width="140%" height="140%"><feGaussianBlur stdDeviation="2"/></filter><filter id="b3" color-interpolation-filters="sRGB" x="-20%" y="-20%" width="140%" height="140%"><feGaussianBlur stdDeviation="3"/></filter><filter id="b6" color-interpolation-filters="sRGB" x="-30%" y="-30%" width="160%" height="160%"><feGaussianBlur stdDeviation="6"/></filter><filter id="b10" color-interpolation-filters="sRGB" x="-30%" y="-30%" width="160%" height="160%"><feGaussianBlur stdDeviation="10"/></filter><filter id="b18" color-interpolation-filters="sRGB" x="-40%" y="-40%" width="180%" height="180%"><feGaussianBlur stdDeviation="18"/></filter><filter id="b30" color-interpolation-filters="sRGB" x="-50%" y="-50%" width="200%" height="200%"><feGaussianBlur stdDeviation="30"/></filter><filter id="b45" color-interpolation-filters="sRGB" x="-60%" y="-60%" width="220%" height="220%"><feGaussianBlur stdDeviation="45"/></filter><filter id="rag" color-interpolation-filters="sRGB" x="-20%" y="-20%" width="140%" height="140%"><feTurbulence type="fractalNoise" baseFrequency="0.12" numOctaves="3" seed="3" result="t"/><feDisplacementMap in="SourceGraphic" in2="t" scale="16" xChannelSelector="R" yChannelSelector="G" result="d"/><feGaussianBlur in="d" stdDeviation="1.3"/></filter><filter id="grain" color-interpolation-filters="sRGB" x="0" y="0" width="100%" height="100%"><feTurbulence type="fractalNoise" baseFrequency="0.6" numOctaves="2" seed="11" result="n"/><feColorMatrix in="n" type="matrix" values="0 0 0 0 0.22  0 0 0 0 0.15  0 0 0 0 0.12  0 0 0 -2.6 1.45" result="m"/><feComposite in="m" in2="SourceGraphic" operator="in"/></filter><filter id="grainL" color-interpolation-filters="sRGB" x="0" y="0" width="100%" height="100%"><feTurbulence type="fractalNoise" baseFrequency="0.5" numOctaves="2" seed="23" result="n"/><feColorMatrix in="n" type="matrix" values="0 0 0 0 0.92  0 0 0 0 0.82  0 0 0 0 0.78  0 0 0 2.6 -1.25" result="m"/><feComposite in="m" in2="SourceGraphic" operator="in"/></filter><filter id="clumptex" color-interpolation-filters="sRGB" x="-20%" y="-20%" width="140%" height="140%"><feTurbulence type="fractalNoise" baseFrequency="0.22" numOctaves="3" seed="5" result="t"/><feColorMatrix in="t" type="matrix" values="0 0 0 0 0.20  0 0 0 0 0.15  0 0 0 0 0.11  0 0 0 -3.2 1.75" result="dk"/><feComposite in="dk" in2="SourceGraphic" operator="in" result="tex"/><feTurbulence type="fractalNoise" baseFrequency="0.3" numOctaves="2" seed="9" result="t2"/><feColorMatrix in="t2" type="matrix" values="0 0 0 0 0.54  0 0 0 0 0.37  0 0 0 0 0.21  0 0 0 2.4 -1.45" result="lt"/><feComposite in="lt" in2="SourceGraphic" operator="in" result="tex2"/><feMerge><feMergeNode in="SourceGraphic"/><feMergeNode in="tex"/><feMergeNode in="tex2"/></feMerge></filter><linearGradient id="gRight" x1="610" y1="0" x2="747" y2="0" gradientUnits="userSpaceOnUse"><stop offset="0" stop-color="rgb(118,88,82)" stop-opacity="0"/><stop offset="0.6" stop-color="rgb(118,88,82)" stop-opacity="0.45"/><stop offset="1" stop-color="rgb(110,84,78)" stop-opacity="0.75"/></linearGradient></defs>
<g clip-path="url(#cphoto)">
<rect x="0" y="567" width="747" height="490" fill="rgb(176,140,120)"/>
<g filter="url(#b45)"><ellipse cx="300" cy="650" rx="270" ry="120" fill="rgb(190,152,130)"/><ellipse cx="560" cy="700" rx="110" ry="120" fill="rgb(186,151,136)"/><ellipse cx="500" cy="985" rx="250" ry="85" fill="rgb(166,134,116)"/><ellipse cx="210" cy="850" rx="120" ry="120" fill="rgb(174,138,118)"/></g>
<rect x="600" y="560" width="150" height="500" fill="url(#gRight)"/>
<g filter="url(#b30)"><ellipse cx="730" cy="585" rx="90" ry="55" fill="rgb(105,82,72)" opacity="0.8"/><ellipse cx="700" cy="1010" rx="60" ry="50" fill="rgb(110,84,70)" opacity="0.7"/><ellipse cx="185" cy="1010" rx="115" ry="65" fill="rgb(124,90,76)" opacity="0.7"/></g>
<path d="M65,567 C50,640 44,700 44,760 C44,840 55,920 80,985 C100,1030 120,1050 140,1062" fill="none" stroke="rgb(128,92,80)" stroke-width="110" opacity="0.7" filter="url(#b30)"/>
<path d="M712,1060 Q726,1020 748,992 V1060 Z" fill="rgb(196,162,150)" filter="url(#b3)"/>
<g filter="url(#b10)" fill="rgb(212,192,178)"><path d="M372,778 Q410,760 450,775 Q470,790 462,812 Q430,818 400,812 Q380,800 372,778 Z"/><path d="M500,640 Q530,640 545,665 Q540,700 515,715 Q500,700 495,670 Z"/><path d="M410,768 Q440,760 470,768 Q480,790 470,800 L420,790 Z"/></g>
<g filter="url(#b18)" fill="rgb(205,180,168)" opacity="0.7"><ellipse cx="480" cy="790" rx="70" ry="35"/><ellipse cx="540" cy="740" rx="40" ry="40"/></g>
<path d="M348,918 Q338,960 312,1000 Q285,1035 268,1060" stroke="rgb(202,178,168)" stroke-width="6" fill="none" opacity="0.7" filter="url(#b3)"/>
<path d="M690,755 Q715,800 690,850 Q665,880 640,880" stroke="rgb(176,146,130)" stroke-width="10" fill="none" opacity="0.3" filter="url(#b6)"/>
<rect x="0" y="567" width="747" height="490" fill="#000" filter="url(#grain)" opacity="0.3"/>
<rect x="0" y="567" width="747" height="490" fill="#000" filter="url(#grainL)" opacity="0.12"/>
<g fill="rgb(72,58,54)"><circle cx="483.6" cy="580.2" r="1.1" opacity="0.47"/><circle cx="121.2" cy="618.0" r="2.0" opacity="0.80"/><circle cx="83.0" cy="773.9" r="0.7" opacity="0.40"/><circle cx="188.7" cy="861.8" r="1.6" opacity="0.45"/><circle cx="491.2" cy="833.9" r="0.9" opacity="0.57"/><circle cx="221.7" cy="992.2" r="0.9" opacity="0.70"/><circle cx="266.7" cy="643.9" r="1.1" opacity="0.40"/><circle cx="295.4" cy="743.2" r="1.1" opacity="0.65"/><circle cx="605.2" cy="924.1" r="1.6" opacity="0.41"/><circle cx="688.7" cy="606.5" r="1.1" opacity="0.76"/><circle cx="468.4" cy="988.5" r="1.6" opacity="0.45"/><circle cx="70.4" cy="890.7" r="1.1" opacity="0.84"/><circle cx="640.1" cy="990.8" r="1.3" opacity="0.49"/><circle cx="480.9" cy="746.0" r="1.1" opacity="0.53"/><circle cx="505.9" cy="910.5" r="2.0" opacity="0.67"/><circle cx="461.6" cy="651.5" r="2.0" opacity="0.47"/><circle cx="355.1" cy="699.7" r="2.0" opacity="0.69"/><circle cx="179.2" cy="726.2" r="0.7" opacity="0.46"/><circle cx="43.3" cy="721.9" r="1.1" opacity="0.38"/><circle cx="682.0" cy="844.8" r="2.0" opacity="0.51"/><circle cx="495.2" cy="761.1" r="2.0" opacity="0.58"/><circle cx="212.0" cy="688.4" r="1.6" opacity="0.62"/><circle cx="561.6" cy="777.1" r="1.6" opacity="0.55"/><circle cx="179.0" cy="1054.8" r="1.6" opacity="0.60"/><circle cx="567.9" cy="988.2" r="0.9" opacity="0.66"/><circle cx="594.3" cy="774.0" r="0.7" opacity="0.54"/><circle cx="452.0" cy="796.4" r="1.1" opacity="0.84"/><circle cx="644.1" cy="573.6" r="2.0" opacity="0.41"/><circle cx="661.5" cy="934.4" r="2.0" opacity="0.52"/><circle cx="232.8" cy="645.2" r="0.7" opacity="0.83"/><circle cx="655.0" cy="696.5" r="1.6" opacity="0.73"/><circle cx="388.1" cy="619.9" r="2.0" opacity="0.50"/><circle cx="483.2" cy="865.2" r="0.9" opacity="0.54"/><circle cx="137.1" cy="1033.3" r="1.6" opacity="0.81"/><circle cx="454.2" cy="806.4" r="0.7" opacity="0.81"/><circle cx="657.1" cy="973.9" r="1.1" opacity="0.47"/><circle cx="194.6" cy="844.9" r="0.7" opacity="0.39"/><circle cx="372.3" cy="601.8" r="1.6" opacity="0.73"/><circle cx="113.1" cy="799.9" r="1.6" opacity="0.43"/><circle cx="402.6" cy="864.0" r="0.9" opacity="0.81"/><circle cx="567.6" cy="904.7" r="2.0" opacity="0.51"/><circle cx="741.5" cy="885.1" r="1.3" opacity="0.80"/><circle cx="347.3" cy="689.0" r="0.7" opacity="0.52"/><circle cx="446.5" cy="680.3" r="0.9" opacity="0.35"/><circle cx="533.2" cy="596.7" r="0.7" opacity="0.80"/><circle cx="643.2" cy="602.6" r="0.9" opacity="0.49"/><circle cx="371.9" cy="831.1" r="2.0" opacity="0.82"/><circle cx="434.0" cy="798.7" r="1.3" opacity="0.75"/><circle cx="158.0" cy="615.3" r="1.3" opacity="0.53"/><circle cx="318.0" cy="989.6" r="0.7" opacity="0.69"/><circle cx="733.5" cy="616.0" r="1.3" opacity="0.71"/><circle cx="600.4" cy="621.3" r="0.9" opacity="0.45"/><circle cx="345.2" cy="773.9" r="1.1" opacity="0.58"/><circle cx="654.0" cy="604.8" r="1.6" opacity="0.40"/><circle cx="492.8" cy="831.8" r="0.7" opacity="0.83"/><circle cx="691.6" cy="982.2" r="0.9" opacity="0.55"/><circle cx="369.0" cy="989.9" r="0.7" opacity="0.43"/><circle cx="21.6" cy="758.5" r="1.3" opacity="0.49"/><circle cx="525.0" cy="924.5" r="1.6" opacity="0.68"/><circle cx="372.8" cy="660.7" r="0.9" opacity="0.83"/><circle cx="439.9" cy="832.6" r="2.0" opacity="0.51"/><circle cx="56.4" cy="800.7" r="1.6" opacity="0.43"/><circle cx="716.6" cy="607.1" r="0.9" opacity="0.38"/><circle cx="69.3" cy="988.6" r="1.3" opacity="0.41"/><circle cx="665.5" cy="688.2" r="1.6" opacity="0.37"/><circle cx="79.4" cy="888.8" r="1.6" opacity="0.61"/><circle cx="697.7" cy="667.7" r="2.0" opacity="0.51"/><circle cx="212.6" cy="631.9" r="2.0" opacity="0.50"/><circle cx="249.2" cy="934.9" r="0.7" opacity="0.35"/><circle cx="470.3" cy="842.7" r="0.7" opacity="0.39"/><circle cx="174.5" cy="697.4" r="1.1" opacity="0.79"/><circle cx="657.5" cy="748.3" r="0.9" opacity="0.57"/><circle cx="413.8" cy="715.6" r="2.0" opacity="0.61"/><circle cx="504.2" cy="838.6" r="2.0" opacity="0.40"/><circle cx="656.6" cy="697.1" r="0.7" opacity="0.72"/><circle cx="132.7" cy="705.5" r="0.9" opacity="0.71"/><circle cx="167.6" cy="877.5" r="1.1" opacity="0.60"/><circle cx="202.1" cy="1011.2" r="0.7" opacity="0.40"/><circle cx="327.1" cy="703.0" r="0.7" opacity="0.52"/><circle cx="114.8" cy="1046.1" r="0.9" opacity="0.72"/><circle cx="420.0" cy="776.7" r="0.7" opacity="0.41"/><circle cx="705.2" cy="905.2" r="0.9" opacity="0.62"/><circle cx="625.1" cy="852.3" r="0.9" opacity="0.56"/><circle cx="50.3" cy="745.9" r="0.7" opacity="0.80"/><circle cx="172.3" cy="689.8" r="0.7" opacity="0.53"/><circle cx="425.9" cy="994.9" r="1.6" opacity="0.72"/><circle cx="691.2" cy="683.5" r="0.9" opacity="0.84"/><circle cx="607.8" cy="998.1" r="0.7" opacity="0.44"/><circle cx="690.3" cy="949.8" r="1.3" opacity="0.75"/><circle cx="646.4" cy="963.6" r="1.1" opacity="0.43"/><circle cx="528.4" cy="754.7" r="0.7" opacity="0.78"/><circle cx="181.3" cy="966.5" r="1.3" opacity="0.52"/><circle cx="614.9" cy="993.2" r="0.9" opacity="0.36"/><circle cx="160.0" cy="728.2" r="0.7" opacity="0.83"/><circle cx="222.4" cy="881.0" r="1.3" opacity="0.69"/><circle cx="631.7" cy="729.6" r="0.7" opacity="0.41"/><circle cx="723.5" cy="655.1" r="1.1" opacity="0.37"/><circle cx="452.5" cy="736.7" r="1.1" opacity="0.57"/><circle cx="733.6" cy="624.4" r="1.6" opacity="0.45"/><circle cx="52.2" cy="780.8" r="1.6" opacity="0.81"/><circle cx="410.4" cy="919.1" r="2.0" opacity="0.72"/><circle cx="162.9" cy="778.5" r="2.0" opacity="0.81"/><circle cx="471.8" cy="891.7" r="0.7" opacity="0.71"/><circle cx="237.7" cy="718.9" r="1.3" opacity="0.51"/><circle cx="525.5" cy="838.6" r="0.9" opacity="0.56"/><circle cx="701.8" cy="898.5" r="0.9" opacity="0.66"/><circle cx="238.2" cy="835.4" r="0.7" opacity="0.50"/><circle cx="172.4" cy="951.5" r="1.6" opacity="0.68"/><circle cx="357.1" cy="783.8" r="0.9" opacity="0.61"/><circle cx="595.5" cy="1036.4" r="2.0" opacity="0.43"/><circle cx="81.5" cy="819.5" r="2.0" opacity="0.66"/><circle cx="87.7" cy="1032.6" r="0.9" opacity="0.69"/><circle cx="182.9" cy="665.2" r="0.7" opacity="0.37"/><circle cx="733.4" cy="866.3" r="0.7" opacity="0.58"/><circle cx="662.4" cy="848.9" r="2.0" opacity="0.70"/><circle cx="378.4" cy="687.1" r="2.0" opacity="0.69"/><circle cx="667.2" cy="987.9" r="0.7" opacity="0.74"/><circle cx="178.7" cy="960.4" r="2.0" opacity="0.61"/><circle cx="56.4" cy="689.6" r="0.7" opacity="0.58"/><circle cx="601.0" cy="893.8" r="1.6" opacity="0.65"/><circle cx="708.8" cy="1003.0" r="1.6" opacity="0.76"/><circle cx="666.7" cy="776.2" r="1.6" opacity="0.57"/><circle cx="135.4" cy="988.4" r="1.3" opacity="0.48"/><circle cx="199.2" cy="879.2" r="1.6" opacity="0.59"/><circle cx="193.5" cy="782.7" r="2.0" opacity="0.49"/><circle cx="217.0" cy="724.0" r="1.6" opacity="0.39"/><circle cx="129.4" cy="754.9" r="0.9" opacity="0.70"/><circle cx="66.6" cy="766.9" r="1.6" opacity="0.58"/><circle cx="65.1" cy="974.5" r="1.3" opacity="0.80"/><circle cx="443.5" cy="907.4" r="1.6" opacity="0.54"/><circle cx="24.3" cy="739.7" r="1.3" opacity="0.78"/><circle cx="711.2" cy="772.5" r="2.0" opacity="0.72"/><circle cx="599.9" cy="1006.1" r="1.3" opacity="0.46"/><circle cx="336.0" cy="582.2" r="1.1" opacity="0.68"/><circle cx="598.7" cy="921.4" r="1.3" opacity="0.81"/><circle cx="731.0" cy="828.7" r="1.3" opacity="0.65"/><circle cx="500.7" cy="609.0" r="1.3" opacity="0.42"/><circle cx="354.7" cy="592.5" r="1.3" opacity="0.51"/><circle cx="349.7" cy="732.7" r="1.3" opacity="0.49"/><circle cx="709.6" cy="773.7" r="0.7" opacity="0.59"/><circle cx="563.0" cy="593.4" r="1.1" opacity="0.46"/><circle cx="69.7" cy="1035.2" r="0.7" opacity="0.73"/><circle cx="708.5" cy="665.3" r="0.7" opacity="0.66"/><circle cx="192.9" cy="799.1" r="0.7" opacity="0.63"/><circle cx="178.0" cy="909.3" r="1.1" opacity="0.43"/><circle cx="460.3" cy="933.0" r="0.7" opacity="0.74"/><circle cx="138.7" cy="719.8" r="1.6" opacity="0.36"/><circle cx="246.2" cy="898.5" r="1.3" opacity="0.55"/><circle cx="538.4" cy="605.1" r="2.0" opacity="0.77"/><circle cx="196.1" cy="908.2" r="1.1" opacity="0.78"/><circle cx="455.3" cy="627.1" r="1.6" opacity="0.74"/><circle cx="271.7" cy="777.0" r="1.1" opacity="0.38"/><circle cx="489.5" cy="574.2" r="1.3" opacity="0.76"/><circle cx="96.5" cy="1036.9" r="2.0" opacity="0.80"/><circle cx="353.3" cy="642.7" r="0.9" opacity="0.72"/><circle cx="720.0" cy="699.8" r="1.6" opacity="0.74"/><circle cx="357.0" cy="971.0" r="1.6" opacity="0.48"/><circle cx="637.5" cy="973.4" r="0.7" opacity="0.49"/><circle cx="346.8" cy="934.2" r="1.6" opacity="0.66"/><circle cx="294.8" cy="582.0" r="1.1" opacity="0.44"/><circle cx="173.8" cy="957.3" r="1.1" opacity="0.49"/><circle cx="452.2" cy="997.5" r="1.6" opacity="0.36"/><circle cx="707.3" cy="609.8" r="2.0" opacity="0.55"/><circle cx="422.5" cy="685.3" r="1.3" opacity="0.67"/><circle cx="375.8" cy="955.0" r="0.7" opacity="0.50"/><circle cx="313.2" cy="686.7" r="2.0" opacity="0.64"/><circle cx="363.1" cy="827.1" r="1.3" opacity="0.85"/><circle cx="419.0" cy="739.7" r="1.3" opacity="0.49"/><circle cx="202.3" cy="626.9" r="0.9" opacity="0.51"/><circle cx="558.6" cy="1032.0" r="2.0" opacity="0.44"/><circle cx="176.9" cy="804.3" r="2.0" opacity="0.64"/><circle cx="571.2" cy="859.2" r="0.7" opacity="0.77"/><circle cx="234.8" cy="744.1" r="1.1" opacity="0.36"/><circle cx="407.2" cy="701.9" r="0.7" opacity="0.63"/><circle cx="525.6" cy="629.6" r="1.3" opacity="0.40"/><circle cx="28.9" cy="706.8" r="1.3" opacity="0.57"/><circle cx="153.7" cy="593.1" r="1.3" opacity="0.41"/><circle cx="67.4" cy="808.0" r="1.6" opacity="0.66"/><circle cx="58.9" cy="640.8" r="1.6" opacity="0.82"/><circle cx="81.8" cy="689.1" r="1.6" opacity="0.73"/><circle cx="459.6" cy="953.9" r="0.9" opacity="0.74"/><circle cx="295.8" cy="1011.4" r="1.1" opacity="0.78"/><circle cx="737.8" cy="717.0" r="1.6" opacity="0.38"/><circle cx="716.1" cy="616.4" r="0.9" opacity="0.66"/><circle cx="211.9" cy="607.6" r="0.9" opacity="0.44"/><circle cx="74.4" cy="569.3" r="1.3" opacity="0.69"/><circle cx="360.7" cy="583.9" r="1.1" opacity="0.70"/><circle cx="529.7" cy="789.6" r="2.0" opacity="0.47"/><circle cx="211.8" cy="954.1" r="1.6" opacity="0.68"/><circle cx="696.9" cy="775.5" r="1.6" opacity="0.46"/><circle cx="128.0" cy="697.6" r="0.9" opacity="0.39"/><circle cx="140.3" cy="718.1" r="2.0" opacity="0.76"/><circle cx="687.9" cy="782.3" r="1.3" opacity="0.69"/><circle cx="527.3" cy="1028.0" r="1.6" opacity="0.62"/><circle cx="337.4" cy="859.8" r="1.3" opacity="0.72"/><circle cx="457.7" cy="580.6" r="0.9" opacity="0.83"/><circle cx="626.1" cy="848.7" r="0.7" opacity="0.85"/><circle cx="507.4" cy="699.5" r="0.7" opacity="0.73"/><circle cx="147.0" cy="821.3" r="1.3" opacity="0.81"/><circle cx="151.6" cy="853.6" r="2.0" opacity="0.76"/><circle cx="722.6" cy="797.4" r="1.3" opacity="0.52"/><circle cx="505.8" cy="986.6" r="1.1" opacity="0.56"/><circle cx="379.2" cy="891.3" r="1.3" opacity="0.76"/><circle cx="418.8" cy="790.0" r="1.1" opacity="0.48"/><circle cx="104.0" cy="945.0" r="1.6" opacity="0.76"/><circle cx="20.8" cy="992.3" r="1.3" opacity="0.56"/><circle cx="156.0" cy="744.5" r="1.3" opacity="0.66"/><circle cx="571.0" cy="667.3" r="1.6" opacity="0.42"/><circle cx="228.8" cy="997.9" r="1.3" opacity="0.41"/><circle cx="725.5" cy="865.1" r="0.9" opacity="0.70"/><circle cx="245.3" cy="574.7" r="1.3" opacity="0.40"/><circle cx="739.4" cy="1013.5" r="1.3" opacity="0.82"/><circle cx="489.6" cy="643.1" r="2.0" opacity="0.50"/><circle cx="531.4" cy="770.8" r="1.3" opacity="0.84"/><circle cx="196.7" cy="837.0" r="1.3" opacity="0.45"/><circle cx="454.5" cy="932.2" r="0.9" opacity="0.78"/><circle cx="220.3" cy="953.5" r="1.3" opacity="0.52"/><circle cx="591.1" cy="698.4" r="0.7" opacity="0.49"/><circle cx="236.5" cy="854.4" r="2.0" opacity="0.59"/><circle cx="127.7" cy="830.8" r="1.1" opacity="0.52"/><circle cx="573.1" cy="752.1" r="1.1" opacity="0.78"/><circle cx="731.1" cy="684.5" r="1.3" opacity="0.47"/><circle cx="582.3" cy="589.3" r="2.0" opacity="0.59"/><circle cx="682.2" cy="754.0" r="2.0" opacity="0.75"/><circle cx="492.7" cy="642.2" r="0.7" opacity="0.41"/><circle cx="719.9" cy="730.0" r="0.7" opacity="0.79"/><circle cx="339.2" cy="824.7" r="1.3" opacity="0.36"/><circle cx="124.5" cy="993.0" r="0.9" opacity="0.39"/><circle cx="586.6" cy="697.3" r="1.6" opacity="0.70"/><circle cx="491.1" cy="983.7" r="2.0" opacity="0.78"/><circle cx="295.5" cy="722.5" r="2.0" opacity="0.79"/><circle cx="373.8" cy="832.0" r="1.6" opacity="0.38"/><circle cx="477.6" cy="1017.4" r="0.9" opacity="0.72"/><circle cx="334.6" cy="616.0" r="2.0" opacity="0.70"/><circle cx="92.9" cy="649.2" r="1.1" opacity="0.80"/><circle cx="53.3" cy="956.5" r="1.1" opacity="0.53"/><circle cx="332.2" cy="687.2" r="1.3" opacity="0.63"/><circle cx="594.6" cy="651.0" r="0.7" opacity="0.65"/><circle cx="297.3" cy="901.4" r="1.3" opacity="0.81"/><circle cx="123.8" cy="793.0" r="1.1" opacity="0.58"/><circle cx="503.5" cy="1006.7" r="1.3" opacity="0.80"/><circle cx="511.3" cy="645.1" r="1.3" opacity="0.82"/><circle cx="736.0" cy="714.0" r="1.3" opacity="0.70"/><circle cx="351.2" cy="715.4" r="1.3" opacity="0.78"/><circle cx="97.3" cy="754.1" r="1.1" opacity="0.64"/><circle cx="739.7" cy="712.1" r="2.0" opacity="0.55"/><circle cx="25.9" cy="990.2" r="2.0" opacity="0.84"/><circle cx="680.2" cy="931.6" r="1.1" opacity="0.74"/><circle cx="186.8" cy="959.3" r="0.9" opacity="0.67"/><circle cx="470.1" cy="898.7" r="2.0" opacity="0.73"/><circle cx="513.6" cy="634.7" r="0.7" opacity="0.80"/><circle cx="488.6" cy="718.8" r="1.3" opacity="0.37"/><circle cx="284.5" cy="632.1" r="1.1" opacity="0.51"/><circle cx="321.2" cy="666.0" r="1.6" opacity="0.79"/><circle cx="285.2" cy="812.9" r="1.1" opacity="0.77"/><circle cx="206.3" cy="970.4" r="1.3" opacity="0.83"/><circle cx="234.0" cy="992.8" r="0.7" opacity="0.58"/><circle cx="74.6" cy="936.0" r="0.9" opacity="0.78"/><circle cx="545.1" cy="1046.2" r="1.6" opacity="0.53"/><circle cx="593.2" cy="574.8" r="1.6" opacity="0.41"/><circle cx="287.2" cy="933.5" r="1.1" opacity="0.64"/><circle cx="616.3" cy="1026.9" r="0.7" opacity="0.69"/><circle cx="361.8" cy="870.3" r="1.6" opacity="0.51"/><circle cx="462.3" cy="884.1" r="2.0" opacity="0.76"/><circle cx="679.3" cy="715.5" r="1.3" opacity="0.41"/><circle cx="52.9" cy="586.2" r="1.3" opacity="0.41"/><circle cx="190.2" cy="830.3" r="1.3" opacity="0.58"/><circle cx="506.1" cy="930.7" r="1.6" opacity="0.56"/><circle cx="558.1" cy="643.4" r="1.3" opacity="0.68"/><circle cx="624.4" cy="868.4" r="1.1" opacity="0.37"/><circle cx="288.6" cy="784.4" r="0.9" opacity="0.78"/><circle cx="92.0" cy="902.6" r="1.6" opacity="0.80"/><circle cx="487.5" cy="597.5" r="1.1" opacity="0.44"/><circle cx="108.6" cy="981.8" r="1.3" opacity="0.40"/><circle cx="173.8" cy="880.1" r="0.7" opacity="0.38"/><circle cx="261.8" cy="1050.5" r="1.6" opacity="0.45"/><circle cx="621.6" cy="838.5" r="1.6" opacity="0.46"/><circle cx="650.5" cy="728.3" r="0.9" opacity="0.74"/><circle cx="452.1" cy="703.3" r="0.9" opacity="0.84"/><circle cx="411.7" cy="957.7" r="0.7" opacity="0.68"/><circle cx="38.7" cy="575.3" r="0.9" opacity="0.64"/><circle cx="31.4" cy="697.5" r="0.9" opacity="0.72"/><circle cx="401.4" cy="931.9" r="1.3" opacity="0.57"/><circle cx="282.5" cy="857.7" r="1.3" opacity="0.60"/><circle cx="705.4" cy="589.2" r="2.0" opacity="0.61"/><circle cx="352.1" cy="1038.4" r="0.7" opacity="0.85"/><circle cx="634.3" cy="776.0" r="0.7" opacity="0.60"/><circle cx="679.5" cy="603.9" r="0.7" opacity="0.51"/><circle cx="127.5" cy="629.6" r="1.6" opacity="0.67"/><circle cx="417.6" cy="726.7" r="1.6" opacity="0.62"/><circle cx="348.9" cy="863.4" r="0.7" opacity="0.75"/><circle cx="103.0" cy="887.5" r="1.6" opacity="0.71"/><circle cx="175.9" cy="788.4" r="0.9" opacity="0.56"/><circle cx="619.9" cy="762.6" r="2.0" opacity="0.40"/><circle cx="329.4" cy="892.6" r="1.1" opacity="0.83"/><circle cx="517.9" cy="799.4" r="0.7" opacity="0.77"/><circle cx="87.6" cy="615.1" r="2.0" opacity="0.54"/><circle cx="114.3" cy="597.3" r="1.6" opacity="0.63"/><circle cx="505.8" cy="768.5" r="2.0" opacity="0.82"/><circle cx="326.6" cy="1014.9" r="0.7" opacity="0.83"/><circle cx="455.3" cy="739.6" r="1.6" opacity="0.60"/><circle cx="132.2" cy="803.3" r="0.7" opacity="0.53"/><circle cx="423.3" cy="624.1" r="1.1" opacity="0.64"/><circle cx="605.2" cy="980.4" r="1.6" opacity="0.66"/><circle cx="486.0" cy="580.8" r="2.0" opacity="0.76"/><circle cx="213.9" cy="656.0" r="2.0" opacity="0.73"/><circle cx="688.1" cy="739.3" r="0.9" opacity="0.78"/><circle cx="430.6" cy="763.6" r="0.9" opacity="0.72"/><circle cx="724.6" cy="612.8" r="1.6" opacity="0.46"/><circle cx="324.4" cy="734.4" r="1.1" opacity="0.51"/><circle cx="255.2" cy="1027.4" r="1.6" opacity="0.39"/><circle cx="58.1" cy="644.8" r="1.6" opacity="0.37"/><circle cx="79.1" cy="784.2" r="1.3" opacity="0.59"/><circle cx="340.5" cy="701.3" r="1.6" opacity="0.41"/><circle cx="331.7" cy="706.2" r="2.0" opacity="0.65"/><circle cx="402.0" cy="718.5" r="0.9" opacity="0.55"/><circle cx="454.5" cy="571.8" r="1.1" opacity="0.82"/><circle cx="576.3" cy="940.9" r="1.1" opacity="0.51"/><circle cx="25.6" cy="932.5" r="0.9" opacity="0.41"/><circle cx="406.1" cy="680.3" r="1.6" opacity="0.77"/><circle cx="604.5" cy="603.2" r="2.0" opacity="0.37"/><circle cx="33.6" cy="1017.5" r="1.1" opacity="0.64"/><circle cx="435.7" cy="914.2" r="1.3" opacity="0.49"/><circle cx="313.6" cy="1039.5" r="0.9" opacity="0.75"/><circle cx="468.1" cy="974.0" r="1.1" opacity="0.39"/><circle cx="632.3" cy="686.7" r="1.6" opacity="0.55"/><circle cx="77.0" cy="992.8" r="2.0" opacity="0.52"/><circle cx="261.5" cy="650.0" r="1.6" opacity="0.67"/><circle cx="404.7" cy="662.6" r="1.1" opacity="0.53"/><circle cx="714.7" cy="883.0" r="0.9" opacity="0.47"/><circle cx="126.2" cy="664.3" r="1.6" opacity="0.43"/><circle cx="570.4" cy="604.8" r="2.0" opacity="0.60"/><circle cx="567.0" cy="938.8" r="1.3" opacity="0.69"/><circle cx="659.5" cy="881.8" r="1.6" opacity="0.51"/><circle cx="724.0" cy="722.3" r="1.3" opacity="0.38"/><circle cx="340.6" cy="715.8" r="1.1" opacity="0.65"/><circle cx="275.2" cy="604.2" r="1.3" opacity="0.58"/><circle cx="61.2" cy="973.9" r="0.7" opacity="0.67"/><circle cx="728.6" cy="612.1" r="1.6" opacity="0.60"/><circle cx="355.5" cy="838.5" r="2.0" opacity="0.80"/><circle cx="346.1" cy="963.2" r="2.0" opacity="0.44"/><circle cx="458.6" cy="812.7" r="0.7" opacity="0.58"/><circle cx="608.0" cy="976.6" r="2.0" opacity="0.39"/><circle cx="488.4" cy="587.1" r="2.0" opacity="0.57"/><circle cx="338.6" cy="823.1" r="0.9" opacity="0.53"/><circle cx="685.5" cy="757.1" r="1.1" opacity="0.69"/><circle cx="58.0" cy="875.9" r="1.1" opacity="0.38"/><circle cx="88.5" cy="899.0" r="1.1" opacity="0.48"/><circle cx="637.4" cy="1038.6" r="1.6" opacity="0.79"/><circle cx="261.7" cy="852.4" r="0.9" opacity="0.81"/><circle cx="244.9" cy="888.2" r="2.0" opacity="0.55"/><circle cx="451.4" cy="1025.7" r="1.1" opacity="0.63"/><circle cx="486.5" cy="728.3" r="0.9" opacity="0.69"/><circle cx="621.0" cy="928.5" r="2.0" opacity="0.81"/><circle cx="87.8" cy="895.2" r="1.6" opacity="0.53"/><circle cx="282.9" cy="656.0" r="0.9" opacity="0.52"/><circle cx="575.5" cy="661.7" r="0.9" opacity="0.43"/><circle cx="234.4" cy="952.6" r="1.6" opacity="0.74"/><circle cx="625.5" cy="999.2" r="0.7" opacity="0.68"/><circle cx="655.4" cy="869.6" r="1.6" opacity="0.54"/><circle cx="137.6" cy="973.7" r="1.6" opacity="0.75"/><circle cx="140.0" cy="781.6" r="1.3" opacity="0.53"/><circle cx="541.7" cy="1041.2" r="1.6" opacity="0.49"/><circle cx="562.7" cy="787.1" r="1.6" opacity="0.47"/><circle cx="720.1" cy="950.8" r="0.9" opacity="0.53"/><circle cx="706.7" cy="1048.4" r="1.3" opacity="0.73"/><circle cx="584.1" cy="813.4" r="1.3" opacity="0.83"/><circle cx="612.2" cy="959.0" r="0.9" opacity="0.79"/><circle cx="57.8" cy="802.5" r="1.1" opacity="0.63"/><circle cx="94.4" cy="980.8" r="0.7" opacity="0.49"/><circle cx="573.3" cy="701.1" r="1.6" opacity="0.42"/><circle cx="337.2" cy="1029.8" r="0.9" opacity="0.76"/><circle cx="661.4" cy="1022.1" r="1.3" opacity="0.38"/><circle cx="384.0" cy="683.1" r="0.7" opacity="0.54"/><circle cx="40.4" cy="1022.2" r="2.0" opacity="0.67"/><circle cx="593.8" cy="635.1" r="1.1" opacity="0.81"/><circle cx="362.5" cy="973.6" r="2.0" opacity="0.58"/><circle cx="466.1" cy="1010.1" r="0.7" opacity="0.48"/><circle cx="625.3" cy="835.8" r="2.0" opacity="0.65"/><circle cx="326.9" cy="946.8" r="0.9" opacity="0.50"/><circle cx="54.6" cy="772.9" r="1.6" opacity="0.58"/><circle cx="100.4" cy="1009.7" r="1.6" opacity="0.62"/><circle cx="478.2" cy="848.6" r="2.0" opacity="0.42"/><circle cx="331.2" cy="868.0" r="0.9" opacity="0.64"/><circle cx="155.8" cy="894.1" r="1.6" opacity="0.84"/><circle cx="69.1" cy="824.7" r="1.6" opacity="0.74"/><circle cx="388.0" cy="577.9" r="1.3" opacity="0.37"/><circle cx="300.5" cy="750.2" r="2.0" opacity="0.36"/><circle cx="591.7" cy="736.3" r="2.0" opacity="0.68"/><circle cx="95.2" cy="852.0" r="1.1" opacity="0.42"/><circle cx="275.4" cy="733.2" r="2.0" opacity="0.44"/><circle cx="584.9" cy="794.7" r="2.0" opacity="0.59"/><circle cx="152.2" cy="633.8" r="2.0" opacity="0.74"/><circle cx="351.8" cy="711.2" r="0.7" opacity="0.75"/><circle cx="662.2" cy="722.0" r="1.1" opacity="0.61"/><circle cx="737.1" cy="833.0" r="1.1" opacity="0.37"/><circle cx="489.0" cy="707.6" r="0.7" opacity="0.78"/><circle cx="260.6" cy="628.7" r="1.1" opacity="0.57"/><circle cx="310.0" cy="782.6" r="1.3" opacity="0.52"/><circle cx="155.4" cy="905.7" r="1.1" opacity="0.81"/><circle cx="396.5" cy="959.0" r="2.0" opacity="0.56"/><circle cx="332.2" cy="1053.6" r="0.9" opacity="0.62"/><circle cx="252.9" cy="607.1" r="2.0" opacity="0.50"/><circle cx="343.3" cy="918.2" r="0.9" opacity="0.69"/><circle cx="274.9" cy="588.7" r="1.1" opacity="0.66"/><circle cx="335.3" cy="880.1" r="0.7" opacity="0.39"/><circle cx="482.2" cy="745.3" r="2.0" opacity="0.69"/><circle cx="710.8" cy="637.7" r="1.6" opacity="0.69"/><circle cx="337.7" cy="629.6" r="0.9" opacity="0.74"/><circle cx="285.6" cy="754.8" r="1.6" opacity="0.37"/><circle cx="131.2" cy="787.6" r="1.1" opacity="0.54"/><circle cx="573.2" cy="848.1" r="1.6" opacity="0.53"/><circle cx="247.9" cy="704.0" r="0.7" opacity="0.36"/><circle cx="154.9" cy="820.7" r="1.6" opacity="0.41"/><circle cx="581.8" cy="911.6" r="0.9" opacity="0.85"/><circle cx="227.0" cy="1015.2" r="1.3" opacity="0.45"/><circle cx="118.4" cy="604.1" r="0.9" opacity="0.80"/><circle cx="342.7" cy="610.8" r="2.0" opacity="0.83"/><circle cx="735.3" cy="893.9" r="2.0" opacity="0.38"/><circle cx="413.1" cy="1003.0" r="0.9" opacity="0.71"/></g>
<g fill="rgb(235,225,215)"><circle cx="692.3" cy="879.2" r="1.0" opacity="0.55"/><circle cx="108.0" cy="666.1" r="0.8" opacity="0.42"/><circle cx="378.2" cy="744.1" r="1.0" opacity="0.53"/><circle cx="732.7" cy="631.3" r="0.6" opacity="0.33"/><circle cx="308.7" cy="917.9" r="1.2" opacity="0.56"/><circle cx="577.6" cy="969.8" r="0.6" opacity="0.36"/><circle cx="249.8" cy="604.2" r="1.2" opacity="0.64"/><circle cx="269.8" cy="996.4" r="0.8" opacity="0.68"/><circle cx="113.5" cy="813.4" r="0.6" opacity="0.72"/><circle cx="395.6" cy="716.4" r="0.8" opacity="0.46"/><circle cx="534.3" cy="736.9" r="1.0" opacity="0.72"/><circle cx="201.7" cy="877.9" r="1.0" opacity="0.36"/><circle cx="239.5" cy="828.3" r="0.8" opacity="0.60"/><circle cx="441.0" cy="651.5" r="1.0" opacity="0.72"/><circle cx="428.6" cy="970.7" r="0.6" opacity="0.34"/><circle cx="707.7" cy="944.3" r="1.0" opacity="0.63"/><circle cx="576.0" cy="771.3" r="0.6" opacity="0.55"/><circle cx="474.7" cy="709.4" r="1.0" opacity="0.54"/><circle cx="603.4" cy="902.3" r="1.0" opacity="0.53"/><circle cx="519.2" cy="645.1" r="1.2" opacity="0.54"/><circle cx="167.9" cy="864.1" r="1.0" opacity="0.73"/><circle cx="251.5" cy="1050.2" r="1.0" opacity="0.79"/><circle cx="114.8" cy="748.8" r="0.6" opacity="0.46"/><circle cx="358.2" cy="698.5" r="0.8" opacity="0.37"/><circle cx="56.7" cy="1029.3" r="1.2" opacity="0.42"/><circle cx="647.3" cy="645.9" r="1.0" opacity="0.77"/><circle cx="542.8" cy="660.6" r="0.8" opacity="0.55"/><circle cx="393.2" cy="811.4" r="1.0" opacity="0.55"/><circle cx="85.3" cy="759.9" r="1.2" opacity="0.78"/><circle cx="176.0" cy="740.2" r="0.6" opacity="0.44"/><circle cx="453.2" cy="979.3" r="1.2" opacity="0.44"/><circle cx="25.9" cy="620.5" r="0.8" opacity="0.74"/><circle cx="547.4" cy="940.8" r="1.0" opacity="0.32"/><circle cx="57.1" cy="842.2" r="1.0" opacity="0.58"/><circle cx="73.3" cy="814.1" r="1.0" opacity="0.71"/><circle cx="471.9" cy="866.2" r="0.8" opacity="0.79"/><circle cx="305.6" cy="955.9" r="1.0" opacity="0.58"/><circle cx="285.1" cy="638.4" r="1.2" opacity="0.55"/><circle cx="52.8" cy="634.9" r="1.0" opacity="0.70"/><circle cx="396.5" cy="640.7" r="0.8" opacity="0.46"/><circle cx="464.5" cy="647.3" r="1.0" opacity="0.60"/><circle cx="387.8" cy="816.7" r="1.2" opacity="0.65"/><circle cx="237.3" cy="966.1" r="1.0" opacity="0.47"/><circle cx="99.5" cy="771.3" r="1.0" opacity="0.70"/><circle cx="545.9" cy="903.8" r="0.6" opacity="0.60"/><circle cx="212.5" cy="887.9" r="0.8" opacity="0.66"/><circle cx="443.1" cy="651.2" r="1.2" opacity="0.37"/><circle cx="513.5" cy="583.4" r="0.6" opacity="0.40"/><circle cx="339.8" cy="772.4" r="1.2" opacity="0.65"/><circle cx="317.5" cy="946.2" r="1.2" opacity="0.74"/><circle cx="553.5" cy="598.4" r="0.8" opacity="0.56"/><circle cx="426.6" cy="1055.1" r="1.2" opacity="0.56"/><circle cx="247.5" cy="652.5" r="1.0" opacity="0.57"/><circle cx="510.0" cy="991.4" r="1.0" opacity="0.61"/><circle cx="159.4" cy="688.3" r="1.0" opacity="0.41"/><circle cx="725.4" cy="713.2" r="1.0" opacity="0.65"/><circle cx="520.4" cy="806.6" r="1.2" opacity="0.47"/><circle cx="696.9" cy="956.2" r="1.0" opacity="0.44"/><circle cx="435.8" cy="833.1" r="1.2" opacity="0.71"/><circle cx="712.1" cy="960.7" r="1.0" opacity="0.32"/><circle cx="712.6" cy="606.6" r="1.2" opacity="0.63"/><circle cx="561.8" cy="672.4" r="1.0" opacity="0.77"/><circle cx="524.7" cy="635.0" r="0.8" opacity="0.42"/><circle cx="505.6" cy="827.1" r="0.8" opacity="0.33"/><circle cx="319.6" cy="918.1" r="0.6" opacity="0.64"/><circle cx="119.7" cy="1038.7" r="0.8" opacity="0.50"/><circle cx="697.9" cy="996.7" r="1.2" opacity="0.63"/><circle cx="568.0" cy="708.2" r="1.0" opacity="0.62"/><circle cx="678.3" cy="611.7" r="0.8" opacity="0.57"/><circle cx="544.3" cy="1025.1" r="0.8" opacity="0.51"/><circle cx="627.3" cy="1023.8" r="0.6" opacity="0.80"/><circle cx="307.8" cy="809.7" r="1.0" opacity="0.74"/><circle cx="26.7" cy="845.2" r="0.6" opacity="0.76"/><circle cx="262.9" cy="789.7" r="1.2" opacity="0.74"/><circle cx="117.3" cy="814.1" r="1.0" opacity="0.40"/><circle cx="101.7" cy="647.3" r="1.2" opacity="0.62"/><circle cx="541.0" cy="574.9" r="1.0" opacity="0.70"/><circle cx="431.6" cy="937.6" r="0.8" opacity="0.61"/><circle cx="483.1" cy="765.9" r="1.2" opacity="0.56"/><circle cx="82.9" cy="894.6" r="0.8" opacity="0.79"/><circle cx="366.2" cy="1024.7" r="0.6" opacity="0.43"/><circle cx="190.8" cy="935.8" r="1.0" opacity="0.45"/><circle cx="544.1" cy="573.6" r="1.0" opacity="0.65"/><circle cx="65.0" cy="625.7" r="1.0" opacity="0.38"/><circle cx="517.4" cy="1018.5" r="1.0" opacity="0.65"/><circle cx="483.1" cy="1027.0" r="1.0" opacity="0.61"/><circle cx="178.9" cy="633.2" r="0.8" opacity="0.53"/><circle cx="736.9" cy="750.3" r="1.2" opacity="0.68"/><circle cx="601.4" cy="970.9" r="0.8" opacity="0.64"/><circle cx="452.0" cy="952.2" r="1.2" opacity="0.56"/><circle cx="282.3" cy="1015.6" r="0.6" opacity="0.33"/><circle cx="417.0" cy="814.7" r="0.8" opacity="0.38"/><circle cx="639.5" cy="783.6" r="0.8" opacity="0.66"/><circle cx="374.4" cy="1006.7" r="1.2" opacity="0.70"/><circle cx="348.7" cy="818.5" r="1.2" opacity="0.58"/><circle cx="425.1" cy="896.3" r="1.0" opacity="0.66"/><circle cx="307.1" cy="966.4" r="0.8" opacity="0.59"/><circle cx="52.8" cy="736.1" r="0.6" opacity="0.57"/><circle cx="63.7" cy="1004.4" r="1.2" opacity="0.32"/><circle cx="316.4" cy="943.3" r="1.2" opacity="0.49"/><circle cx="666.2" cy="786.9" r="1.2" opacity="0.49"/><circle cx="515.0" cy="891.0" r="0.8" opacity="0.63"/><circle cx="272.1" cy="655.1" r="1.2" opacity="0.56"/><circle cx="547.7" cy="676.7" r="0.6" opacity="0.68"/><circle cx="729.4" cy="793.9" r="1.2" opacity="0.57"/><circle cx="616.9" cy="688.8" r="1.0" opacity="0.38"/><circle cx="156.6" cy="995.1" r="0.6" opacity="0.32"/><circle cx="498.6" cy="868.1" r="0.6" opacity="0.42"/><circle cx="68.8" cy="857.8" r="1.2" opacity="0.60"/><circle cx="529.9" cy="591.8" r="0.6" opacity="0.50"/><circle cx="189.9" cy="674.0" r="0.6" opacity="0.37"/><circle cx="740.3" cy="682.3" r="1.0" opacity="0.59"/><circle cx="580.1" cy="967.4" r="0.8" opacity="0.45"/><circle cx="123.9" cy="890.2" r="0.8" opacity="0.51"/><circle cx="219.5" cy="839.7" r="0.8" opacity="0.61"/><circle cx="329.7" cy="809.9" r="1.0" opacity="0.77"/><circle cx="506.7" cy="951.5" r="1.0" opacity="0.65"/><circle cx="316.0" cy="714.3" r="0.8" opacity="0.68"/><circle cx="363.3" cy="982.5" r="1.0" opacity="0.73"/><circle cx="124.7" cy="794.0" r="0.6" opacity="0.58"/><circle cx="721.6" cy="840.0" r="0.8" opacity="0.49"/><circle cx="204.9" cy="729.2" r="0.6" opacity="0.76"/><circle cx="634.2" cy="613.1" r="0.8" opacity="0.33"/><circle cx="293.4" cy="863.2" r="0.6" opacity="0.74"/><circle cx="156.4" cy="939.7" r="0.8" opacity="0.54"/><circle cx="650.4" cy="730.5" r="0.6" opacity="0.41"/><circle cx="157.8" cy="929.8" r="1.2" opacity="0.76"/><circle cx="524.3" cy="911.4" r="1.2" opacity="0.76"/><circle cx="420.3" cy="946.5" r="1.2" opacity="0.53"/><circle cx="490.3" cy="718.5" r="1.0" opacity="0.56"/><circle cx="380.5" cy="616.1" r="1.2" opacity="0.68"/><circle cx="252.2" cy="667.1" r="1.0" opacity="0.51"/><circle cx="427.8" cy="676.0" r="0.8" opacity="0.31"/><circle cx="421.2" cy="853.0" r="1.2" opacity="0.45"/><circle cx="162.2" cy="680.2" r="0.8" opacity="0.55"/><circle cx="494.6" cy="902.2" r="1.0" opacity="0.68"/><circle cx="374.3" cy="921.1" r="1.2" opacity="0.53"/><circle cx="551.3" cy="739.9" r="0.8" opacity="0.66"/><circle cx="374.0" cy="1015.4" r="0.6" opacity="0.56"/><circle cx="628.3" cy="604.3" r="0.6" opacity="0.68"/></g>
<g fill="none" stroke="rgb(190,70,75)" stroke-width="0.9" opacity="0.45"><path d="M328.7,974.4 q-7.5,5.8 -17.7,0.2"/><path d="M301.2,866.6 q4.7,3.3 -0.6,-0.4"/><path d="M44.6,834.8 q-13.7,0.8 -8.1,17.2"/><path d="M52.0,960.3 q4.9,8.6 14.8,-14.1"/><path d="M107.4,641.5 q-8.6,0.7 11.3,-8.4"/><path d="M317.8,749.1 q-2.6,1.8 17.6,-9.9"/><path d="M518.8,977.0 q4.3,10.0 9.3,-14.6"/><path d="M305.5,835.3 q-12.4,-13.7 -11.8,-0.0"/><path d="M343.7,946.5 q1.8,10.0 -14.6,1.0"/><path d="M69.8,671.5 q10.3,10.9 -0.9,-16.3"/><path d="M92.0,1014.3 q11.2,1.8 -16.8,15.4"/><path d="M260.1,1031.5 q2.4,7.1 7.7,-3.7"/><path d="M93.9,648.0 q-7.3,9.4 -4.0,14.3"/><path d="M272.2,932.7 q-10.1,13.7 8.1,0.0"/><path d="M722.0,595.8 q-1.8,9.5 -5.7,9.7"/><path d="M708.4,760.4 q7.7,-13.2 -8.2,17.7"/><path d="M383.4,740.8 q12.4,-1.9 6.5,5.8"/><path d="M100.0,866.9 q8.3,6.0 -15.0,-12.4"/><path d="M538.2,874.3 q6.7,-5.1 -14.2,-17.8"/><path d="M255.8,742.8 q-6.4,-10.3 -11.3,-1.8"/><path d="M428.3,765.9 q-13.3,-4.1 -14.6,3.5"/><path d="M267.1,754.9 q-5.8,-3.1 -15.0,14.4"/><path d="M673.6,1039.5 q2.0,-9.3 -4.3,-13.0"/><path d="M250.8,806.7 q-12.2,-1.8 -2.8,-0.6"/><path d="M93.8,690.8 q-7.1,3.5 3.4,-11.0"/><path d="M114.9,716.2 q12.6,-4.7 4.3,10.9"/><path d="M270.7,730.7 q8.8,10.1 17.1,-13.1"/><path d="M264.5,1024.7 q-8.4,-5.2 16.7,16.9"/><path d="M244.0,903.6 q-0.3,2.1 -9.3,-4.5"/><path d="M611.5,758.6 q-10.8,1.8 3.3,1.6"/><path d="M517.2,834.0 q12.7,-1.1 7.5,-2.2"/><path d="M243.9,902.6 q8.9,8.3 -3.3,-0.0"/><path d="M483.3,686.2 q4.4,6.0 10.4,-15.3"/><path d="M733.5,800.0 q-2.8,0.2 15.1,6.9"/><path d="M420.6,949.5 q-3.9,11.1 1.3,5.0"/><path d="M99.5,939.1 q4.4,-4.1 5.3,-16.4"/><path d="M728.5,895.2 q-2.8,7.1 16.8,-2.5"/><path d="M47.4,694.2 q0.3,0.5 2.9,2.7"/><path d="M352.0,757.7 q7.6,2.5 0.0,-5.6"/><path d="M57.2,620.2 q-2.4,12.9 -13.8,15.9"/><path d="M139.2,719.7 q-1.3,-8.2 -0.6,-0.9"/><path d="M346.7,904.4 q-5.1,-5.6 11.2,-13.9"/><path d="M634.4,881.0 q5.0,-9.4 17.4,-9.2"/><path d="M162.1,646.9 q1.7,12.8 -9.7,-3.4"/><path d="M169.1,877.4 q-1.9,-13.2 4.1,-10.9"/></g>
<path d="M-10,567 L65,567 C50,640 44,700 44,760 C44,840 55,920 80,985 C100,1030 120,1050 140,1062 L-10,1062 Z" fill="rgb(190,152,141)" filter="url(#b2)"/>
<path d="M-10,567 L65,567 C50,640 44,700 44,760 C44,840 55,920 80,985 C100,1030 120,1050 140,1062 L-10,1062 Z" fill="#000" filter="url(#grain)" opacity="0.3"/>
<path d="M58,567 C44,640 35,700 33,760 C32,840 40,930 60,1000 C68,1025 78,1045 88,1062" fill="none" stroke="rgb(212,180,172)" stroke-width="4" opacity="0.8" filter="url(#b2)"/>
<path d="M-10,567 L34,567 C24,610 14,650 6,690 C0,720 -4,740 -6,760 L-6,840 C6,900 22,990 50,1062 L-10,1062 Z" fill="rgb(232,198,193)" filter="url(#b3)"/>
<path d="M0,567 L22,567 C10,610 2,650 0,690 Z" fill="rgb(240,210,208)" filter="url(#b3)"/>
<path d="M0,940 C10,990 22,1035 34,1062 L0,1062 Z" fill="rgb(244,214,210)" filter="url(#b3)"/>
<path d="M2,930 C10,985 24,1030 40,1062" fill="none" stroke="rgb(252,235,232)" stroke-width="2.5" opacity="0.8" filter="url(#b2)"/>
<path d="M62,567 L50,584 L39,606" stroke="rgb(165,55,58)" stroke-width="7" fill="none" filter="url(#b2)"/>
<g filter="url(#b18)" fill="rgb(100,78,62)" opacity="0.45"><ellipse cx="345" cy="760" rx="75" ry="60"/><ellipse cx="390" cy="832" rx="55" ry="25"/><ellipse cx="480" cy="720" rx="35" ry="45"/></g>
<g filter="url(#rag)"><g filter="url(#clumptex)"><path fill="rgb(104,80,56)" d="M297,701 L350,700 L406,718 L406,768 L370,776 L356,798 L324,815 L284,787 L281,752 L293,716 Z"/><path fill="rgb(100,76,52)" d="M326,806 L390,808 L449,815 L440,845 L422,852 L345,855 Z"/><path fill="rgb(112,78,50)" d="M413,716 L460,714 L462,758 L430,760 L416,748 Z"/><path fill="rgb(104,80,56)" d="M468,666 L489,666 L500,716 L508,762 L458,762 L458,716 Z"/><path fill="rgb(104,80,56)" d="M456,718 L505,716 L505,760 L456,760 Z"/><path fill="rgb(104,78,54)" d="M493,613 L534,616 L536,636 L500,640 Z"/><path fill="rgb(102,74,50)" d="M526,678 L560,682 L557,708 L530,716 Z"/></g></g>
<g filter="url(#rag)"><path filter="url(#clumptex)" fill="rgb(128,46,24)" d="M332,812 Q345,802 362,806 Q374,818 372,836 Q368,852 350,855 Q334,852 329,836 Z"/></g>
<ellipse cx="347" cy="826" rx="12" ry="13" fill="rgb(160,62,30)" opacity="0.4" filter="url(#b3)"/>
<path d="M577,617 L561,640 L549,661 L536,682 L527,700 L519,724" stroke="rgb(112,62,34)" stroke-width="10" fill="none" stroke-linecap="round" opacity="0.9" filter="url(#rag)"/>
<path d="M500,643 L515,648" stroke="rgb(140,82,48)" stroke-width="5" fill="none" opacity="0.8" filter="url(#b2)"/>
<path d="M260,794 L279,798 L274,814 L268,826 Z" fill="rgb(38,28,30)" filter="url(#b2)"/>
</g>
<rect x="746.5" y="567" width="9.5" height="496" fill="#000"/>
<rect x="0" y="1057" width="756" height="6" fill="#000"/>
<rect x="0" y="1056" width="746" height="1.2" fill="rgb(150,20,120)" opacity="0.8"/>
<text x="146.2" y="628" font-size="44" fill="#000" text-anchor="start" font-weight="bold" font-family="'Liberation Serif','Times New Roman',serif" >(a)</text>
<g stroke="#ff0" stroke-width="3" fill="none" stroke-linecap="round"><path d="M260.5,889 L318,827.6"/><path d="M303.5,832.5 L318.3,827.2 L313.5,842"/></g>
<text transform="translate(190.2,928) scale(0.93,1)" font-size="36.5" fill="#ff0" font-weight="bold" font-family="'Liberation Sans',Arial,sans-serif">A1</text>
</g>
</svg></body></html>
